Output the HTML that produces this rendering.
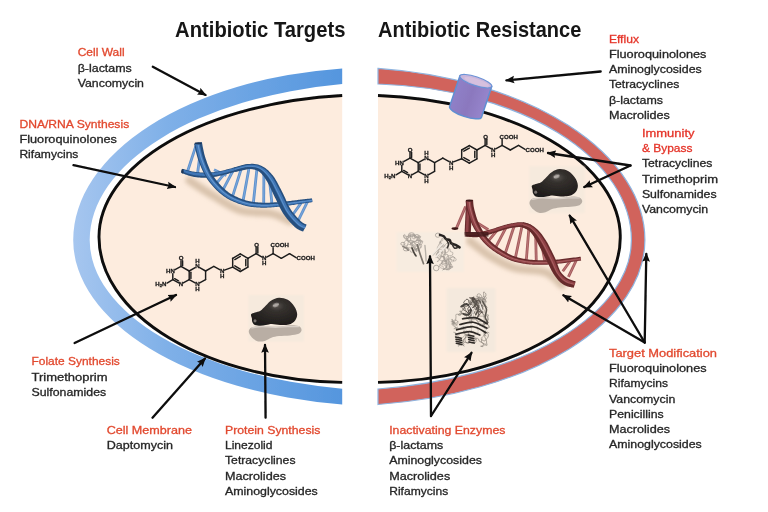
<!DOCTYPE html>
<html lang="en"><head><meta charset="utf-8"><title>Antibiotic Targets and Antibiotic Resistance</title>
<style>html,body{margin:0;padding:0;background:#fff}body{width:768px;height:512px;overflow:hidden}svg{display:block}</style>
</head><body>
<svg width="768" height="512" viewBox="0 0 768 512">
<defs>
<linearGradient id="gb" x1="73" y1="0" x2="342" y2="0" gradientUnits="userSpaceOnUse">
<stop offset="0" stop-color="#a6c6ef"/><stop offset="0.35" stop-color="#7fb0e8"/><stop offset="1" stop-color="#5596de"/>
</linearGradient>
<radialGradient id="gdark" cx="0.55" cy="0.3" r="0.7">
<stop offset="0" stop-color="#5a5550"/><stop offset="0.25" stop-color="#35312e"/><stop offset="1" stop-color="#1f1c1a"/>
</radialGradient>
<linearGradient id="gcyl" x1="0" y1="0" x2="1" y2="0">
<stop offset="0" stop-color="#8f80c8"/><stop offset="0.5" stop-color="#8b78be"/><stop offset="1" stop-color="#9685cc"/>
</linearGradient>
<filter id="bl2" x="-30%" y="-30%" width="160%" height="160%"><feGaussianBlur stdDeviation="2"/></filter>
<filter id="bl1" x="-20%" y="-20%" width="140%" height="140%"><feGaussianBlur stdDeviation="1"/></filter>
<filter id="bl05" x="-20%" y="-20%" width="140%" height="140%"><feGaussianBlur stdDeviation="0.5"/></filter>
<filter id="soft" x="-2%" y="-2%" width="104%" height="104%"><feGaussianBlur stdDeviation="0.5"/></filter>
<marker id="ah" viewBox="0 0 10 10" refX="8.6" refY="5" markerWidth="3.95" markerHeight="3.95" orient="auto" markerUnits="strokeWidth">
<path d="M0,0.8 L10,5 L0,9.2 L1.6,5 Z" fill="#0a0a0a"/></marker>

<g id="dnaB">
<path d="M189.33,180.47 C193.27,182.98 204.36,190.50 212.96,195.51 C221.55,200.52 231.21,207.57 240.88,210.54 C250.54,213.51 262.71,211.54 270.95,213.33 C279.18,215.12 287.05,219.96 290.27,221.28" fill="none" stroke="#c2a98c" stroke-opacity="0.6" stroke-width="8" stroke-linecap="round" filter="url(#bl2)"/>
<g stroke="var(--r)" stroke-width="2.8" stroke-linecap="butt"><line x1="195.8" y1="146.1" x2="187.6" y2="171.2"/><line x1="200.1" y1="153.6" x2="197.5" y2="174.0"/><line x1="307.5" y1="201.7" x2="297.1" y2="222.8"/><line x1="301.4" y1="202.6" x2="291.6" y2="216.3"/><line x1="214.0" y1="169.7" x2="226.3" y2="175.5"/><line x1="225.7" y1="172.1" x2="215.6" y2="184.4"/><line x1="233.4" y1="170.0" x2="222.3" y2="191.2"/><line x1="241.6" y1="167.7" x2="232.1" y2="197.8"/><line x1="249.3" y1="166.5" x2="242.8" y2="202.2"/><line x1="257.1" y1="167.3" x2="253.2" y2="204.5"/><line x1="263.9" y1="171.3" x2="263.7" y2="205.2"/><line x1="269.2" y1="177.4" x2="272.1" y2="204.9"/></g>
<g stroke="var(--l)" stroke-width="1.0" stroke-linecap="butt" stroke-opacity="0.7"><line x1="195.8" y1="146.1" x2="187.6" y2="171.2"/><line x1="200.1" y1="153.6" x2="197.5" y2="174.0"/><line x1="307.5" y1="201.7" x2="297.1" y2="222.8"/><line x1="301.4" y1="202.6" x2="291.6" y2="216.3"/><line x1="214.0" y1="169.7" x2="226.3" y2="175.5"/><line x1="225.7" y1="172.1" x2="215.6" y2="184.4"/><line x1="233.4" y1="170.0" x2="222.3" y2="191.2"/><line x1="241.6" y1="167.7" x2="232.1" y2="197.8"/><line x1="249.3" y1="166.5" x2="242.8" y2="202.2"/><line x1="257.1" y1="167.3" x2="253.2" y2="204.5"/><line x1="263.9" y1="171.3" x2="263.7" y2="205.2"/><line x1="269.2" y1="177.4" x2="272.1" y2="204.9"/></g>

<path d="M181.20,172.82 L181.65,172.99 L182.20,173.20 L182.85,173.46 L183.59,173.74 L184.40,174.05 L185.28,174.38 L186.20,174.71 L187.17,175.05 L188.16,175.39 L189.17,175.72 L190.18,176.03 L191.19,176.32 L192.20,176.58 L193.17,176.80 L194.11,176.96 L195.05,177.10 L196.00,177.22 L196.95,177.33 L197.91,177.43 L198.87,177.51 L199.84,177.58 L200.80,177.63 L201.77,177.67 L202.74,177.70 L203.70,177.72 L204.66,177.73 L205.62,177.72 L206.58,177.70 L207.53,177.65 L208.47,177.59 L209.40,177.51 L210.33,177.42 L211.26,177.32 L212.18,177.21 L213.11,177.08 L214.04,176.94 L214.98,176.79 L215.92,176.63 L216.88,176.45 L217.85,176.27 L218.83,176.07 L219.84,175.86 L220.88,175.64 L221.95,175.39 L223.04,175.13 L224.13,174.85 L225.23,174.56 L226.34,174.25 L227.44,173.94 L228.55,173.63 L229.65,173.32 L230.74,173.01 L231.82,172.71 L232.89,172.41 L233.93,172.13 L234.96,171.87 L236.02,171.64 L237.12,171.39 L238.26,171.15 L239.42,170.90 L240.59,170.65 L241.74,170.41 L242.87,170.17 L243.97,169.95 L245.01,169.73 L245.99,169.53 L246.88,169.35 L247.68,169.19 L248.38,169.06 L248.95,168.95 L247.84,164.08 L247.28,164.22 L246.60,164.40 L245.81,164.60 L244.92,164.82 L243.95,165.06 L242.92,165.32 L241.83,165.59 L240.70,165.87 L239.55,166.16 L238.39,166.45 L237.23,166.74 L236.09,167.03 L234.98,167.32 L233.91,167.60 L232.84,167.86 L231.76,168.13 L230.66,168.42 L229.56,168.71 L228.46,169.01 L227.35,169.31 L226.25,169.60 L225.16,169.90 L224.08,170.18 L223.01,170.45 L221.96,170.70 L220.93,170.94 L219.93,171.15 L218.96,171.34 L217.99,171.50 L217.04,171.65 L216.11,171.79 L215.20,171.91 L214.30,172.03 L213.41,172.13 L212.53,172.21 L211.66,172.29 L210.80,172.36 L209.93,172.41 L209.07,172.45 L208.20,172.48 L207.33,172.50 L206.45,172.50 L205.56,172.52 L204.66,172.53 L203.76,172.52 L202.86,172.51 L201.96,172.48 L201.06,172.44 L200.17,172.39 L199.28,172.32 L198.39,172.25 L197.51,172.16 L196.63,172.06 L195.77,171.95 L194.91,171.82 L194.08,171.68 L193.24,171.56 L192.36,171.40 L191.44,171.20 L190.49,170.98 L189.53,170.74 L188.57,170.49 L187.63,170.23 L186.71,169.97 L185.83,169.72 L185.00,169.49 L184.24,169.27 L183.55,169.08 L182.93,168.92 L182.43,168.80Z" fill="var(--d)"/>
<path d="M181.63,171.41 L182.10,171.56 L182.67,171.76 L183.33,171.99 L184.08,172.25 L184.90,172.54 L185.78,172.84 L186.70,173.14 L187.66,173.46 L188.64,173.76 L189.63,174.06 L190.62,174.34 L191.60,174.60 L192.56,174.82 L193.49,175.01 L194.39,175.16 L195.30,175.30 L196.22,175.42 L197.15,175.52 L198.08,175.61 L199.01,175.69 L199.95,175.76 L200.89,175.81 L201.84,175.86 L202.78,175.88 L203.72,175.90 L204.66,175.91 L205.60,175.90 L206.53,175.88 L207.46,175.85 L208.37,175.80 L209.28,175.74 L210.19,175.67 L211.10,175.58 L212.00,175.49 L212.91,175.38 L213.82,175.26 L214.74,175.12 L215.67,174.98 L216.61,174.82 L217.57,174.65 L218.54,174.47 L219.53,174.28 L220.55,174.07 L221.60,173.83 L222.66,173.58 L223.74,173.31 L224.83,173.02 L225.92,172.73 L227.03,172.42 L228.13,172.12 L229.23,171.81 L230.33,171.50 L231.42,171.21 L232.49,170.92 L233.55,170.64 L234.59,170.37 L235.65,170.12 L236.76,169.87 L237.90,169.60 L239.06,169.34 L240.23,169.08 L241.38,168.82 L242.51,168.57 L243.60,168.33 L244.64,168.10 L245.61,167.89 L246.51,167.69 L247.30,167.52 L247.99,167.37 L248.56,167.24 L248.00,164.81 L247.44,164.95 L246.76,165.12 L245.97,165.31 L245.08,165.53 L244.11,165.76 L243.08,166.01 L241.99,166.28 L240.86,166.55 L239.71,166.83 L238.55,167.11 L237.39,167.40 L236.24,167.68 L235.13,167.96 L234.06,168.24 L233.00,168.50 L231.93,168.77 L230.84,169.06 L229.74,169.36 L228.64,169.66 L227.53,169.96 L226.43,170.26 L225.34,170.55 L224.25,170.83 L223.18,171.11 L222.12,171.37 L221.09,171.61 L220.08,171.82 L219.09,172.02 L218.12,172.19 L217.16,172.34 L216.23,172.49 L215.31,172.62 L214.40,172.74 L213.50,172.85 L212.62,172.94 L211.74,173.03 L210.86,173.10 L209.99,173.16 L209.12,173.21 L208.24,173.25 L207.36,173.27 L206.47,173.28 L205.57,173.30 L204.66,173.31 L203.75,173.30 L202.84,173.29 L201.93,173.26 L201.02,173.22 L200.12,173.17 L199.21,173.10 L198.32,173.03 L197.42,172.94 L196.54,172.83 L195.66,172.72 L194.79,172.59 L193.95,172.45 L193.09,172.31 L192.19,172.14 L191.25,171.93 L190.29,171.69 L189.32,171.44 L188.36,171.18 L187.41,170.90 L186.49,170.63 L185.62,170.37 L184.79,170.12 L184.03,169.90 L183.34,169.70 L182.74,169.53 L182.24,169.40Z" fill="var(--m)"/>
<path d="M194.03,143.81 L194.21,144.46 L194.40,145.26 L194.63,146.22 L194.88,147.32 L195.15,148.52 L195.45,149.81 L195.78,151.18 L196.12,152.60 L196.49,154.06 L196.89,155.54 L197.31,157.02 L197.76,158.49 L198.23,159.93 L198.73,161.31 L199.23,162.61 L199.74,163.92 L200.26,165.25 L200.81,166.61 L201.38,167.97 L201.97,169.35 L202.60,170.73 L203.25,172.12 L203.95,173.51 L204.67,174.89 L205.44,176.26 L206.25,177.62 L207.11,178.95 L208.01,180.26 L208.95,181.53 L209.93,182.79 L210.96,184.05 L212.02,185.31 L213.11,186.55 L214.24,187.77 L215.40,188.97 L216.59,190.15 L217.79,191.30 L219.02,192.41 L220.26,193.49 L221.52,194.52 L222.79,195.50 L224.08,196.43 L225.38,197.32 L226.70,198.16 L228.05,198.95 L229.42,199.70 L230.80,200.41 L232.19,201.08 L233.59,201.71 L234.99,202.31 L236.40,202.86 L237.80,203.39 L239.19,203.88 L240.58,204.34 L241.95,204.77 L243.32,205.18 L244.69,205.56 L246.06,205.90 L247.42,206.21 L248.78,206.47 L250.14,206.70 L251.49,206.90 L252.83,207.07 L254.18,207.21 L255.52,207.33 L256.86,207.43 L258.21,207.51 L259.55,207.57 L260.90,207.63 L262.27,207.67 L263.66,207.70 L265.08,207.69 L266.51,207.66 L267.95,207.60 L269.39,207.53 L270.82,207.43 L272.25,207.32 L273.68,207.20 L275.09,207.07 L276.49,206.94 L277.88,206.80 L279.24,206.66 L280.58,206.52 L281.89,206.39 L283.21,206.25 L284.53,206.10 L285.83,205.94 L287.13,205.78 L288.42,205.60 L289.69,205.43 L290.94,205.24 L292.18,205.06 L293.40,204.88 L294.60,204.70 L295.77,204.52 L296.92,204.35 L298.04,204.19 L299.13,204.03 L300.23,203.88 L301.35,203.72 L302.48,203.56 L303.60,203.40 L304.71,203.25 L305.80,203.09 L306.86,202.94 L307.87,202.79 L308.82,202.66 L309.71,202.53 L310.53,202.41 L311.26,202.30 L311.90,202.20 L312.43,202.12 L311.94,198.35 L311.40,198.40 L310.76,198.47 L310.03,198.55 L309.21,198.64 L308.31,198.75 L307.35,198.86 L306.34,198.97 L305.28,199.10 L304.19,199.22 L303.08,199.35 L301.95,199.48 L300.82,199.61 L299.70,199.74 L298.60,199.87 L297.49,200.00 L296.35,200.13 L295.19,200.28 L294.01,200.43 L292.81,200.58 L291.59,200.73 L290.36,200.88 L289.11,201.03 L287.86,201.18 L286.59,201.32 L285.32,201.46 L284.04,201.59 L282.76,201.70 L281.47,201.81 L280.16,201.91 L278.81,202.02 L277.45,202.13 L276.08,202.24 L274.70,202.35 L273.31,202.45 L271.92,202.54 L270.53,202.61 L269.15,202.68 L267.77,202.72 L266.41,202.75 L265.07,202.75 L263.75,202.72 L262.44,202.67 L261.13,202.60 L259.83,202.52 L258.54,202.43 L257.26,202.33 L255.99,202.21 L254.73,202.07 L253.48,201.91 L252.24,201.72 L251.01,201.52 L249.78,201.28 L248.56,201.01 L247.34,200.72 L246.11,200.38 L244.88,200.01 L243.62,199.59 L242.34,199.15 L241.06,198.68 L239.78,198.18 L238.49,197.66 L237.22,197.10 L235.95,196.52 L234.69,195.91 L233.45,195.27 L232.23,194.60 L231.03,193.89 L229.86,193.15 L228.72,192.38 L227.61,191.58 L226.51,190.72 L225.41,189.80 L224.32,188.83 L223.23,187.82 L222.15,186.77 L221.08,185.68 L220.04,184.56 L219.02,183.42 L218.02,182.26 L217.06,181.09 L216.13,179.91 L215.24,178.73 L214.40,177.55 L213.60,176.39 L212.86,175.24 L212.16,174.07 L211.48,172.87 L210.84,171.64 L210.23,170.39 L209.64,169.13 L209.08,167.85 L208.55,166.56 L208.03,165.26 L207.53,163.96 L207.05,162.66 L206.59,161.36 L206.14,160.08 L205.70,158.83 L205.30,157.60 L204.92,156.33 L204.56,154.99 L204.21,153.63 L203.89,152.24 L203.58,150.86 L203.29,149.49 L203.02,148.17 L202.77,146.90 L202.54,145.71 L202.33,144.60 L202.14,143.60 L201.97,142.70 L201.81,141.97Z" fill="var(--d)"/>
<path d="M195.14,143.54 L195.31,144.21 L195.51,145.03 L195.73,145.99 L195.97,147.09 L196.24,148.29 L196.53,149.58 L196.85,150.94 L197.18,152.35 L197.55,153.80 L197.93,155.26 L198.34,156.73 L198.78,158.18 L199.24,159.60 L199.72,160.95 L200.21,162.25 L200.71,163.56 L201.23,164.88 L201.77,166.23 L202.32,167.59 L202.91,168.95 L203.52,170.32 L204.16,171.70 L204.84,173.06 L205.55,174.43 L206.30,175.78 L207.09,177.11 L207.93,178.42 L208.81,179.71 L209.73,180.96 L210.69,182.21 L211.69,183.46 L212.74,184.71 L213.81,185.94 L214.92,187.15 L216.06,188.34 L217.23,189.51 L218.41,190.65 L219.62,191.76 L220.84,192.82 L222.08,193.84 L223.32,194.82 L224.58,195.74 L225.85,196.61 L227.15,197.44 L228.48,198.23 L229.82,198.98 L231.18,199.68 L232.55,200.35 L233.93,200.97 L235.31,201.57 L236.70,202.12 L238.08,202.65 L239.46,203.14 L240.83,203.60 L242.19,204.03 L243.54,204.44 L244.89,204.82 L246.24,205.16 L247.58,205.47 L248.92,205.73 L250.26,205.96 L251.59,206.16 L252.93,206.33 L254.26,206.48 L255.59,206.60 L256.92,206.70 L258.25,206.78 L259.59,206.85 L260.93,206.91 L262.29,206.96 L263.68,206.99 L265.08,206.99 L266.50,206.96 L267.92,206.91 L269.35,206.84 L270.78,206.75 L272.21,206.64 L273.63,206.53 L275.04,206.40 L276.44,206.27 L277.82,206.13 L279.18,206.00 L280.52,205.86 L281.83,205.74 L283.15,205.60 L284.46,205.46 L285.76,205.30 L287.05,205.14 L288.34,204.97 L289.61,204.80 L290.86,204.62 L292.10,204.45 L293.31,204.27 L294.51,204.09 L295.69,203.92 L296.84,203.75 L297.96,203.59 L299.06,203.44 L300.16,203.29 L301.28,203.14 L302.40,202.98 L303.53,202.83 L304.64,202.67 L305.73,202.52 L306.78,202.37 L307.79,202.23 L308.75,202.10 L309.64,201.97 L310.46,201.86 L311.19,201.75 L311.83,201.66 L312.36,201.58 L312.09,199.51 L311.56,199.57 L310.92,199.65 L310.18,199.74 L309.36,199.84 L308.47,199.95 L307.51,200.07 L306.50,200.19 L305.44,200.32 L304.35,200.46 L303.24,200.60 L302.11,200.74 L300.99,200.88 L299.87,201.01 L298.76,201.15 L297.66,201.29 L296.52,201.43 L295.37,201.58 L294.19,201.74 L292.99,201.90 L291.77,202.06 L290.54,202.22 L289.29,202.38 L288.03,202.54 L286.76,202.69 L285.48,202.84 L284.19,202.97 L282.90,203.10 L281.60,203.22 L280.29,203.33 L278.94,203.45 L277.58,203.57 L276.21,203.69 L274.82,203.80 L273.42,203.91 L272.02,204.01 L270.62,204.10 L269.22,204.17 L267.83,204.22 L266.44,204.26 L265.08,204.27 L263.72,204.25 L262.39,204.21 L261.06,204.15 L259.74,204.08 L258.43,203.99 L257.14,203.90 L255.84,203.78 L254.56,203.65 L253.28,203.49 L252.01,203.32 L250.74,203.11 L249.48,202.88 L248.21,202.61 L246.94,202.31 L245.67,201.98 L244.40,201.60 L243.11,201.19 L241.80,200.74 L240.49,200.28 L239.17,199.78 L237.85,199.26 L236.53,198.70 L235.22,198.12 L233.92,197.50 L232.63,196.85 L231.36,196.17 L230.11,195.45 L228.89,194.69 L227.69,193.90 L226.52,193.07 L225.37,192.19 L224.22,191.25 L223.07,190.26 L221.93,189.23 L220.81,188.16 L219.70,187.05 L218.61,185.92 L217.55,184.76 L216.51,183.58 L215.51,182.39 L214.54,181.19 L213.61,179.98 L212.72,178.77 L211.88,177.58 L211.09,176.38 L210.34,175.16 L209.63,173.91 L208.95,172.64 L208.30,171.35 L207.68,170.05 L207.09,168.73 L206.53,167.41 L205.98,166.09 L205.46,164.77 L204.96,163.46 L204.48,162.15 L204.01,160.86 L203.56,159.59 L203.13,158.32 L202.72,156.99 L202.33,155.62 L201.96,154.21 L201.61,152.80 L201.28,151.39 L200.98,150.01 L200.69,148.68 L200.43,147.40 L200.18,146.20 L199.96,145.10 L199.76,144.11 L199.58,143.24 L199.42,142.53Z" fill="var(--m)"/>
<path d="M197.10,143.08 L197.27,143.77 L197.46,144.61 L197.67,145.58 L197.91,146.68 L198.16,147.88 L198.44,149.16 L198.74,150.51 L199.07,151.91 L199.41,153.34 L199.78,154.78 L200.17,156.22 L200.59,157.63 L201.02,159.01 L201.48,160.33 L201.96,161.61 L202.44,162.91 L202.94,164.23 L203.46,165.56 L204.00,166.90 L204.57,168.25 L205.16,169.59 L205.78,170.94 L206.43,172.28 L207.11,173.61 L207.83,174.92 L208.58,176.21 L209.38,177.49 L210.22,178.73 L211.10,179.96 L212.03,181.19 L213.00,182.42 L214.01,183.64 L215.05,184.85 L216.13,186.05 L217.23,187.23 L218.36,188.38 L219.51,189.51 L220.68,190.60 L221.87,191.65 L223.06,192.65 L224.26,193.61 L225.47,194.51 L226.70,195.37 L227.95,196.18 L229.23,196.95 L230.53,197.69 L231.85,198.38 L233.18,199.04 L234.52,199.66 L235.87,200.25 L237.23,200.81 L238.58,201.33 L239.93,201.83 L241.28,202.29 L242.61,202.73 L243.93,203.14 L245.25,203.52 L246.56,203.85 L247.87,204.16 L249.18,204.42 L250.48,204.65 L251.79,204.85 L253.09,205.03 L254.40,205.18 L255.71,205.31 L257.02,205.41 L258.34,205.50 L259.66,205.58 L260.99,205.64 L262.34,205.70 L263.70,205.73 L265.08,205.74 L266.47,205.72 L267.88,205.68 L269.29,205.61 L270.71,205.53 L272.12,205.43 L273.53,205.32 L274.94,205.21 L276.33,205.08 L277.71,204.95 L279.07,204.83 L280.41,204.70 L281.73,204.58 L283.03,204.45 L284.34,204.32 L285.63,204.17 L286.92,204.02 L288.20,203.86 L289.46,203.69 L290.71,203.52 L291.95,203.35 L293.17,203.18 L294.36,203.01 L295.54,202.85 L296.69,202.69 L297.82,202.53 L298.92,202.39 L300.02,202.24 L301.14,202.10 L302.27,201.95 L303.40,201.80 L304.51,201.66 L305.60,201.51 L306.65,201.37 L307.66,201.24 L308.62,201.11 L309.51,200.99 L310.33,200.88 L311.06,200.79 L311.70,200.70 L312.23,200.63 L312.16,200.06 L311.63,200.13 L310.99,200.21 L310.26,200.31 L309.44,200.41 L308.54,200.53 L307.59,200.65 L306.57,200.78 L305.52,200.91 L304.43,201.05 L303.32,201.20 L302.19,201.34 L301.06,201.48 L299.94,201.62 L298.84,201.76 L297.74,201.90 L296.61,202.05 L295.45,202.21 L294.27,202.37 L293.08,202.54 L291.86,202.70 L290.62,202.87 L289.37,203.03 L288.11,203.19 L286.84,203.35 L285.55,203.50 L284.26,203.64 L282.97,203.77 L281.66,203.89 L280.35,204.01 L279.01,204.13 L277.65,204.25 L276.27,204.38 L274.88,204.50 L273.48,204.61 L272.07,204.71 L270.66,204.81 L269.26,204.88 L267.85,204.94 L266.46,204.98 L265.08,205.00 L263.71,204.99 L262.36,204.95 L261.03,204.89 L259.70,204.82 L258.39,204.74 L257.08,204.65 L255.78,204.54 L254.48,204.41 L253.19,204.26 L251.90,204.08 L250.61,203.88 L249.33,203.64 L248.04,203.38 L246.75,203.08 L245.46,202.74 L244.17,202.36 L242.86,201.95 L241.54,201.51 L240.21,201.05 L238.88,200.55 L237.54,200.03 L236.20,199.47 L234.87,198.88 L233.55,198.26 L232.24,197.61 L230.95,196.92 L229.67,196.19 L228.42,195.43 L227.20,194.63 L226.00,193.79 L224.82,192.89 L223.64,191.95 L222.47,190.95 L221.31,189.91 L220.17,188.83 L219.04,187.71 L217.93,186.57 L216.85,185.40 L215.79,184.21 L214.77,183.01 L213.78,181.80 L212.83,180.58 L211.92,179.36 L211.06,178.15 L210.24,176.93 L209.47,175.68 L208.73,174.41 L208.04,173.12 L207.37,171.81 L206.74,170.49 L206.13,169.16 L205.56,167.83 L205.00,166.49 L204.47,165.16 L203.96,163.84 L203.47,162.53 L202.99,161.23 L202.53,159.96 L202.09,158.66 L201.66,157.31 L201.26,155.91 L200.88,154.49 L200.52,153.07 L200.19,151.65 L199.87,150.26 L199.58,148.92 L199.30,147.64 L199.05,146.44 L198.83,145.34 L198.62,144.36 L198.43,143.50 L198.27,142.80Z" fill="var(--l)" fill-opacity="0.6"/>
<path d="M234.97,171.87 L235.57,171.74 L236.32,171.56 L237.17,171.34 L238.10,171.09 L239.11,170.82 L240.18,170.54 L241.28,170.26 L242.41,169.98 L243.55,169.73 L244.66,169.50 L245.74,169.30 L246.75,169.15 L247.68,169.05 L248.53,169.01 L249.37,169.02 L250.21,169.06 L251.04,169.11 L251.85,169.18 L252.63,169.28 L253.39,169.40 L254.13,169.55 L254.84,169.72 L255.54,169.92 L256.21,170.15 L256.86,170.40 L257.49,170.69 L258.11,171.02 L258.71,171.38 L259.30,171.80 L259.87,172.26 L260.44,172.76 L261.00,173.30 L261.56,173.87 L262.11,174.48 L262.66,175.13 L263.21,175.82 L263.76,176.54 L264.31,177.30 L264.86,178.10 L265.41,178.93 L265.97,179.80 L266.51,180.68 L267.07,181.54 L267.61,182.46 L268.16,183.44 L268.72,184.47 L269.28,185.56 L269.83,186.68 L270.39,187.85 L270.96,189.04 L271.53,190.26 L272.10,191.49 L272.68,192.74 L273.26,193.99 L273.86,195.25 L274.45,196.47 L275.05,197.63 L275.64,198.80 L276.23,200.02 L276.82,201.26 L277.42,202.53 L278.02,203.81 L278.63,205.11 L279.26,206.41 L279.90,207.71 L280.56,209.00 L281.24,210.27 L281.95,211.53 L282.68,212.76 L283.45,213.96 L284.23,215.11 L285.04,216.24 L285.88,217.35 L286.73,218.43 L287.60,219.48 L288.47,220.50 L289.34,221.48 L290.20,222.43 L291.05,223.34 L291.89,224.20 L292.70,225.02 L293.48,225.78 L294.23,226.50 L294.96,227.18 L295.75,227.83 L296.57,228.44 L297.37,228.98 L298.15,229.45 L298.90,229.85 L299.62,230.21 L300.30,230.51 L300.92,230.76 L301.49,230.97 L301.99,231.15 L302.41,231.29 L302.73,231.39 L302.93,231.45 L303.12,231.52 L306.64,224.79 L306.27,224.56 L305.81,224.32 L305.38,224.11 L304.97,223.91 L304.55,223.71 L304.14,223.50 L303.72,223.28 L303.29,223.04 L302.87,222.78 L302.43,222.49 L301.99,222.17 L301.55,221.82 L301.10,221.43 L300.62,220.97 L300.04,220.41 L299.38,219.76 L298.69,219.07 L297.97,218.32 L297.22,217.53 L296.46,216.70 L295.70,215.84 L294.93,214.95 L294.16,214.03 L293.41,213.10 L292.68,212.15 L291.97,211.19 L291.29,210.23 L290.66,209.27 L290.07,208.30 L289.48,207.27 L288.90,206.18 L288.33,205.04 L287.75,203.86 L287.18,202.64 L286.61,201.40 L286.04,200.13 L285.47,198.84 L284.89,197.54 L284.30,196.24 L283.70,194.94 L283.09,193.65 L282.48,192.40 L281.84,191.22 L281.22,190.04 L280.60,188.85 L279.98,187.64 L279.35,186.42 L278.71,185.19 L278.07,183.97 L277.42,182.76 L276.76,181.56 L276.09,180.38 L275.40,179.23 L274.70,178.10 L273.97,177.01 L273.23,175.97 L272.47,175.04 L271.72,174.15 L270.96,173.28 L270.19,172.45 L269.41,171.64 L268.62,170.86 L267.82,170.11 L267.00,169.39 L266.17,168.72 L265.31,168.08 L264.44,167.48 L263.55,166.92 L262.63,166.41 L261.70,165.94 L260.76,165.51 L259.81,165.13 L258.85,164.81 L257.89,164.54 L256.93,164.32 L255.97,164.15 L255.01,164.02 L254.05,163.92 L253.09,163.87 L252.13,163.85 L251.17,163.85 L250.21,163.89 L249.25,163.94 L248.26,164.02 L247.18,164.12 L246.02,164.29 L244.85,164.51 L243.65,164.77 L242.44,165.07 L241.24,165.39 L240.07,165.72 L238.93,166.05 L237.84,166.38 L236.83,166.70 L235.91,166.98 L235.11,167.24 L234.44,167.44 L233.90,167.60Z" fill="var(--d)"/>
<path d="M234.53,170.11 L235.11,169.97 L235.82,169.78 L236.65,169.54 L237.58,169.28 L238.59,168.99 L239.66,168.69 L240.78,168.39 L241.93,168.09 L243.09,167.81 L244.24,167.55 L245.37,167.33 L246.45,167.15 L247.47,167.02 L248.42,166.95 L249.32,166.93 L250.21,166.93 L251.09,166.94 L251.96,166.98 L252.82,167.05 L253.66,167.14 L254.49,167.27 L255.31,167.42 L256.11,167.61 L256.90,167.84 L257.68,168.10 L258.45,168.40 L259.20,168.75 L259.94,169.14 L260.67,169.58 L261.39,170.06 L262.09,170.58 L262.78,171.14 L263.45,171.75 L264.12,172.39 L264.79,173.06 L265.44,173.77 L266.09,174.52 L266.73,175.30 L267.37,176.12 L268.01,176.96 L268.65,177.84 L269.28,178.74 L269.91,179.67 L270.53,180.66 L271.15,181.70 L271.76,182.79 L272.36,183.91 L272.96,185.07 L273.56,186.25 L274.15,187.45 L274.75,188.67 L275.35,189.90 L275.94,191.14 L276.54,192.37 L277.15,193.59 L277.76,194.79 L278.36,195.99 L278.96,197.21 L279.55,198.46 L280.14,199.73 L280.73,201.01 L281.33,202.29 L281.92,203.58 L282.52,204.86 L283.14,206.12 L283.76,207.37 L284.40,208.59 L285.05,209.77 L285.72,210.92 L286.42,212.03 L287.14,213.10 L287.90,214.16 L288.68,215.21 L289.48,216.23 L290.30,217.24 L291.13,218.21 L291.96,219.16 L292.78,220.07 L293.60,220.95 L294.39,221.78 L295.17,222.57 L295.91,223.30 L296.62,223.99 L297.29,224.62 L297.96,225.19 L298.62,225.71 L299.27,226.17 L299.91,226.58 L300.53,226.94 L301.13,227.25 L301.71,227.53 L302.25,227.77 L302.75,227.98 L303.22,228.17 L303.63,228.33 L304.00,228.48 L304.31,228.61 L304.57,228.75 L305.98,226.05 L305.64,225.86 L305.23,225.65 L304.82,225.46 L304.41,225.27 L303.98,225.07 L303.53,224.86 L303.08,224.64 L302.60,224.38 L302.12,224.11 L301.63,223.80 L301.12,223.45 L300.61,223.07 L300.10,222.63 L299.56,222.13 L298.94,221.55 L298.27,220.89 L297.56,220.18 L296.82,219.43 L296.06,218.62 L295.29,217.78 L294.50,216.90 L293.71,215.99 L292.93,215.06 L292.16,214.10 L291.40,213.13 L290.67,212.14 L289.97,211.15 L289.30,210.15 L288.68,209.14 L288.06,208.07 L287.46,206.95 L286.87,205.79 L286.28,204.58 L285.69,203.35 L285.11,202.09 L284.53,200.82 L283.95,199.53 L283.37,198.24 L282.78,196.95 L282.19,195.67 L281.58,194.40 L280.97,193.16 L280.34,191.98 L279.73,190.79 L279.11,189.58 L278.50,188.36 L277.88,187.14 L277.26,185.92 L276.63,184.70 L276.00,183.50 L275.35,182.31 L274.70,181.15 L274.04,180.02 L273.36,178.92 L272.67,177.86 L271.97,176.86 L271.25,175.93 L270.53,175.05 L269.81,174.19 L269.09,173.36 L268.35,172.56 L267.61,171.79 L266.85,171.05 L266.08,170.35 L265.30,169.69 L264.50,169.06 L263.69,168.47 L262.86,167.92 L262.01,167.42 L261.14,166.96 L260.26,166.54 L259.37,166.17 L258.48,165.86 L257.58,165.59 L256.67,165.37 L255.76,165.19 L254.84,165.06 L253.92,164.95 L253.00,164.89 L252.08,164.85 L251.15,164.84 L250.21,164.86 L249.27,164.90 L248.31,164.95 L247.27,165.05 L246.16,165.20 L245.01,165.41 L243.84,165.66 L242.65,165.95 L241.46,166.25 L240.30,166.57 L239.16,166.90 L238.08,167.22 L237.07,167.52 L236.15,167.80 L235.34,168.05 L234.65,168.25 L234.10,168.40Z" fill="var(--m)"/>
<path d="M234.45,169.78 L235.02,169.64 L235.73,169.45 L236.55,169.21 L237.48,168.94 L238.49,168.65 L239.57,168.35 L240.69,168.04 L241.84,167.74 L243.01,167.45 L244.17,167.19 L245.30,166.96 L246.40,166.78 L247.44,166.64 L248.40,166.57 L249.31,166.54 L250.21,166.53 L251.10,166.54 L251.98,166.58 L252.85,166.64 L253.71,166.73 L254.56,166.85 L255.39,167.00 L256.22,167.19 L257.03,167.41 L257.83,167.67 L258.62,167.98 L259.40,168.33 L260.17,168.73 L260.93,169.17 L261.66,169.65 L262.39,170.18 L263.10,170.75 L263.81,171.35 L264.50,172.00 L265.18,172.68 L265.85,173.40 L266.52,174.15 L267.18,174.93 L267.84,175.75 L268.49,176.60 L269.14,177.48 L269.79,178.38 L270.44,179.33 L271.07,180.33 L271.70,181.38 L272.32,182.48 L272.93,183.61 L273.54,184.77 L274.14,185.96 L274.74,187.16 L275.34,188.38 L275.94,189.61 L276.55,190.84 L277.15,192.07 L277.76,193.28 L278.37,194.48 L278.97,195.69 L279.57,196.92 L280.17,198.17 L280.76,199.45 L281.35,200.73 L281.94,202.01 L282.53,203.30 L283.13,204.57 L283.73,205.83 L284.35,207.07 L284.98,208.28 L285.62,209.45 L286.28,210.58 L286.97,211.67 L287.68,212.73 L288.42,213.78 L289.20,214.81 L289.99,215.83 L290.80,216.82 L291.62,217.79 L292.44,218.73 L293.26,219.64 L294.06,220.50 L294.85,221.33 L295.62,222.11 L296.36,222.85 L297.06,223.52 L297.72,224.15 L298.36,224.71 L299.00,225.21 L299.62,225.66 L300.24,226.05 L300.84,226.40 L301.41,226.71 L301.97,226.98 L302.49,227.22 L302.98,227.43 L303.44,227.62 L303.86,227.79 L304.23,227.94 L304.56,228.09 L304.84,228.23 L305.19,227.56 L304.89,227.40 L304.54,227.24 L304.16,227.07 L303.74,226.89 L303.29,226.70 L302.81,226.49 L302.31,226.25 L301.78,225.99 L301.23,225.69 L300.67,225.36 L300.09,224.98 L299.50,224.55 L298.90,224.07 L298.29,223.53 L297.64,222.92 L296.95,222.24 L296.22,221.52 L295.46,220.74 L294.68,219.92 L293.88,219.06 L293.08,218.17 L292.27,217.24 L291.46,216.28 L290.66,215.29 L289.88,214.29 L289.12,213.27 L288.38,212.24 L287.69,211.20 L287.02,210.14 L286.38,209.02 L285.74,207.87 L285.13,206.67 L284.52,205.44 L283.92,204.19 L283.33,202.93 L282.74,201.64 L282.15,200.36 L281.56,199.07 L280.97,197.80 L280.38,196.53 L279.78,195.29 L279.17,194.07 L278.55,192.88 L277.94,191.67 L277.34,190.45 L276.73,189.23 L276.13,188.00 L275.52,186.78 L274.91,185.57 L274.30,184.38 L273.68,183.21 L273.05,182.07 L272.42,180.96 L271.78,179.90 L271.13,178.88 L270.46,177.91 L269.79,177.00 L269.12,176.12 L268.45,175.27 L267.77,174.45 L267.08,173.66 L266.39,172.90 L265.69,172.18 L264.99,171.49 L264.27,170.84 L263.54,170.23 L262.79,169.65 L262.03,169.12 L261.26,168.63 L260.47,168.18 L259.67,167.78 L258.85,167.42 L258.03,167.11 L257.20,166.85 L256.36,166.63 L255.51,166.44 L254.65,166.29 L253.78,166.18 L252.90,166.10 L252.01,166.05 L251.12,166.02 L250.21,166.02 L249.30,166.03 L248.37,166.07 L247.38,166.15 L246.33,166.29 L245.21,166.48 L244.07,166.72 L242.90,166.99 L241.73,167.28 L240.57,167.59 L239.44,167.90 L238.37,168.21 L237.36,168.50 L236.43,168.78 L235.61,169.02 L234.91,169.21 L234.34,169.36Z" fill="var(--l)" fill-opacity="0.5"/>
<ellipse cx="198.14" cy="143.32" rx="3.5" ry="1.1" fill="var(--k)"/><ellipse cx="182.46" cy="171.24" rx="1.2" ry="2.2" fill="var(--k)"/>
</g>
<g id="dnaR">
<path d="M470.00,241.00 C473.33,243.50 482.50,251.50 490.00,256.00 C497.50,260.50 505.83,265.33 515.00,268.00 C524.17,270.67 537.17,269.17 545.00,272.00 C552.83,274.83 559.17,282.83 562.00,285.00" fill="none" stroke="#c2a98c" stroke-opacity="0.6" stroke-width="8" stroke-linecap="round" filter="url(#bl2)"/>
<g stroke="var(--r)" stroke-width="2.8" stroke-linecap="butt"><line x1="465.6" y1="206.5" x2="456.3" y2="228.6"/><line x1="476.6" y1="222.4" x2="488.3" y2="229.8"/><line x1="497.9" y1="229.4" x2="487.4" y2="242.1"/><line x1="506.4" y1="226.8" x2="495.0" y2="248.6"/><line x1="514.4" y1="225.2" x2="504.8" y2="254.8"/><line x1="522.3" y1="224.7" x2="515.1" y2="259.2"/><line x1="529.0" y1="226.9" x2="526.2" y2="261.6"/><line x1="535.6" y1="232.7" x2="536.3" y2="262.4"/><line x1="541.0" y1="240.5" x2="545.1" y2="262.5"/><line x1="576.2" y1="260.5" x2="568.4" y2="276.9"/><line x1="570.0" y1="261.3" x2="562.8" y2="271.2"/></g>
<g stroke="var(--l)" stroke-width="1.0" stroke-linecap="butt" stroke-opacity="0.7"><line x1="465.6" y1="206.5" x2="456.3" y2="228.6"/><line x1="476.6" y1="222.4" x2="488.3" y2="229.8"/><line x1="497.9" y1="229.4" x2="487.4" y2="242.1"/><line x1="506.4" y1="226.8" x2="495.0" y2="248.6"/><line x1="514.4" y1="225.2" x2="504.8" y2="254.8"/><line x1="522.3" y1="224.7" x2="515.1" y2="259.2"/><line x1="529.0" y1="226.9" x2="526.2" y2="261.6"/><line x1="535.6" y1="232.7" x2="536.3" y2="262.4"/><line x1="541.0" y1="240.5" x2="545.1" y2="262.5"/><line x1="576.2" y1="260.5" x2="568.4" y2="276.9"/><line x1="570.0" y1="261.3" x2="562.8" y2="271.2"/></g>
<path d="M469.2,200.4 L467.6,235" stroke="var(--d)" stroke-width="6.2" fill="none"/><path d="M468.4,201 L466.9,235" stroke="var(--m)" stroke-width="2.6" fill="none"/>
<path d="M465.39,236.50 L465.87,236.53 L466.44,236.59 L467.14,236.66 L467.93,236.74 L468.80,236.82 L469.74,236.91 L470.73,237.00 L471.77,237.07 L472.84,237.13 L473.92,237.18 L475.02,237.20 L476.11,237.20 L477.20,237.16 L478.26,237.09 L479.29,236.95 L480.32,236.78 L481.36,236.58 L482.40,236.36 L483.45,236.12 L484.49,235.86 L485.53,235.59 L486.57,235.31 L487.59,235.02 L488.60,234.74 L489.59,234.45 L490.55,234.16 L491.50,233.89 L492.42,233.61 L493.35,233.34 L494.27,233.06 L495.18,232.77 L496.07,232.47 L496.95,232.17 L497.81,231.86 L498.66,231.56 L499.49,231.27 L500.30,230.98 L501.09,230.70 L501.87,230.43 L502.63,230.17 L503.37,229.94 L504.11,229.71 L504.84,229.52 L505.56,229.32 L506.26,229.14 L506.94,228.97 L507.61,228.80 L508.27,228.64 L508.92,228.50 L509.56,228.36 L510.19,228.22 L510.82,228.10 L511.45,227.98 L512.08,227.87 L512.71,227.77 L513.36,227.67 L514.03,227.58 L514.71,227.49 L515.38,227.40 L516.05,227.32 L516.71,227.24 L517.36,227.18 L518.00,227.12 L518.63,227.08 L519.24,227.05 L519.84,227.04 L520.41,227.04 L520.96,227.07 L521.48,227.11 L521.96,227.18 L522.42,227.29 L522.90,227.44 L523.42,227.63 L523.96,227.84 L524.52,228.09 L525.08,228.35 L525.63,228.63 L526.17,228.91 L526.69,229.19 L527.19,229.46 L527.66,229.72 L528.10,229.97 L528.52,230.20 L528.86,230.38 L531.14,224.82 L530.86,224.75 L530.54,224.64 L530.12,224.49 L529.63,224.29 L529.08,224.07 L528.48,223.84 L527.83,223.59 L527.16,223.34 L526.45,223.09 L525.72,222.86 L524.97,222.65 L524.20,222.46 L523.42,222.32 L522.64,222.22 L521.89,222.16 L521.16,222.13 L520.42,222.13 L519.69,222.15 L518.97,222.20 L518.24,222.26 L517.52,222.34 L516.80,222.44 L516.09,222.54 L515.39,222.65 L514.69,222.77 L514.00,222.89 L513.32,223.01 L512.64,223.13 L511.96,223.25 L511.27,223.37 L510.59,223.51 L509.91,223.65 L509.24,223.80 L508.56,223.95 L507.88,224.12 L507.20,224.29 L506.51,224.47 L505.82,224.66 L505.11,224.85 L504.39,225.05 L503.65,225.26 L502.89,225.49 L502.10,225.71 L501.29,225.95 L500.48,226.21 L499.66,226.48 L498.84,226.75 L498.01,227.03 L497.18,227.31 L496.34,227.60 L495.50,227.88 L494.65,228.15 L493.79,228.43 L492.93,228.69 L492.06,228.94 L491.18,229.19 L490.26,229.43 L489.30,229.68 L488.33,229.93 L487.35,230.19 L486.36,230.44 L485.36,230.69 L484.37,230.93 L483.37,231.16 L482.39,231.38 L481.41,231.57 L480.46,231.75 L479.52,231.90 L478.61,232.02 L477.74,232.11 L476.88,232.20 L475.96,232.26 L475.00,232.29 L474.01,232.29 L473.02,232.28 L472.02,232.25 L471.04,232.20 L470.09,232.15 L469.18,232.10 L468.32,232.04 L467.52,231.99 L466.79,231.95 L466.14,231.91 L465.61,231.90Z" fill="var(--d)"/>
<path d="M465.47,234.89 L465.96,234.92 L466.57,234.96 L467.27,235.02 L468.06,235.09 L468.93,235.17 L469.86,235.25 L470.84,235.32 L471.86,235.38 L472.90,235.43 L473.96,235.47 L475.01,235.48 L476.06,235.47 L477.09,235.43 L478.08,235.35 L479.05,235.22 L480.04,235.07 L481.04,234.89 L482.06,234.68 L483.08,234.46 L484.10,234.22 L485.13,233.96 L486.15,233.69 L487.16,233.42 L488.16,233.14 L489.15,232.87 L490.12,232.59 L491.06,232.32 L491.99,232.06 L492.90,231.80 L493.80,231.53 L494.69,231.25 L495.57,230.96 L496.44,230.66 L497.30,230.37 L498.14,230.08 L498.97,229.78 L499.79,229.50 L500.59,229.22 L501.39,228.95 L502.16,228.70 L502.93,228.46 L503.68,228.23 L504.42,228.03 L505.15,227.83 L505.86,227.64 L506.55,227.46 L507.23,227.28 L507.90,227.12 L508.56,226.96 L509.21,226.81 L509.86,226.67 L510.50,226.54 L511.15,226.41 L511.79,226.30 L512.45,226.19 L513.11,226.08 L513.78,225.98 L514.46,225.88 L515.14,225.78 L515.82,225.69 L516.49,225.60 L517.17,225.52 L517.83,225.45 L518.50,225.39 L519.15,225.35 L519.79,225.33 L520.41,225.32 L521.03,225.34 L521.62,225.38 L522.20,225.44 L522.77,225.55 L523.36,225.70 L523.96,225.88 L524.58,226.10 L525.19,226.34 L525.80,226.60 L526.40,226.86 L526.98,227.13 L527.53,227.40 L528.04,227.65 L528.52,227.89 L528.95,228.10 L529.34,228.29 L529.66,228.43 L530.79,225.66 L530.51,225.57 L530.17,225.44 L529.75,225.27 L529.26,225.07 L528.72,224.84 L528.13,224.60 L527.50,224.34 L526.84,224.09 L526.16,223.84 L525.45,223.61 L524.74,223.39 L524.00,223.21 L523.27,223.06 L522.54,222.97 L521.83,222.90 L521.13,222.87 L520.42,222.86 L519.72,222.88 L519.01,222.93 L518.30,222.98 L517.59,223.06 L516.89,223.15 L516.19,223.25 L515.49,223.35 L514.79,223.46 L514.11,223.58 L513.43,223.69 L512.75,223.81 L512.07,223.92 L511.39,224.05 L510.72,224.18 L510.05,224.31 L509.38,224.46 L508.71,224.61 L508.04,224.77 L507.36,224.94 L506.68,225.12 L505.99,225.30 L505.28,225.49 L504.56,225.69 L503.83,225.90 L503.07,226.12 L502.29,226.34 L501.49,226.59 L500.69,226.84 L499.88,227.11 L499.06,227.38 L498.23,227.67 L497.40,227.95 L496.56,228.24 L495.71,228.52 L494.86,228.80 L494.00,229.08 L493.13,229.35 L492.26,229.60 L491.37,229.85 L490.44,230.09 L489.49,230.35 L488.52,230.61 L487.54,230.87 L486.54,231.13 L485.54,231.39 L484.54,231.63 L483.54,231.87 L482.55,232.09 L481.56,232.29 L480.59,232.47 L479.64,232.63 L478.71,232.76 L477.82,232.86 L476.92,232.95 L475.98,233.00 L475.00,233.03 L474.00,233.03 L472.99,233.01 L471.98,232.97 L471.00,232.92 L470.04,232.87 L469.12,232.81 L468.26,232.75 L467.46,232.69 L466.74,232.64 L466.10,232.61 L465.58,232.59Z" fill="var(--m)"/>
<path d="M465.53,200.65 L465.57,200.92 L465.62,201.25 L465.67,201.65 L465.72,202.12 L465.78,202.66 L465.85,203.24 L465.93,203.87 L466.01,204.55 L466.11,205.26 L466.23,206.00 L466.36,206.78 L466.52,207.58 L466.70,208.39 L466.89,209.22 L467.11,210.05 L467.34,210.92 L467.60,211.83 L467.87,212.78 L468.16,213.76 L468.46,214.77 L468.77,215.78 L469.09,216.80 L469.42,217.81 L469.76,218.81 L470.10,219.79 L470.44,220.74 L470.79,221.66 L471.13,222.53 L471.47,223.35 L471.82,224.14 L472.16,224.90 L472.52,225.64 L472.87,226.36 L473.23,227.05 L473.59,227.72 L473.96,228.39 L474.33,229.03 L474.70,229.67 L475.08,230.31 L475.46,230.94 L475.85,231.58 L476.24,232.22 L476.63,232.85 L477.01,233.49 L477.41,234.13 L477.80,234.77 L478.21,235.42 L478.63,236.08 L479.06,236.74 L479.51,237.40 L479.99,238.07 L480.48,238.75 L481.01,239.43 L481.56,240.11 L482.14,240.80 L482.75,241.48 L483.37,242.15 L483.99,242.81 L484.63,243.47 L485.30,244.14 L485.98,244.82 L486.69,245.49 L487.42,246.17 L488.18,246.84 L488.97,247.52 L489.79,248.20 L490.64,248.87 L491.52,249.55 L492.43,250.22 L493.38,250.88 L494.36,251.55 L495.39,252.23 L496.46,252.93 L497.57,253.63 L498.71,254.34 L499.88,255.05 L501.08,255.74 L502.29,256.43 L503.51,257.10 L504.73,257.75 L505.96,258.36 L507.19,258.95 L508.40,259.50 L509.60,260.00 L510.79,260.46 L511.97,260.88 L513.15,261.27 L514.33,261.63 L515.50,261.96 L516.67,262.26 L517.84,262.54 L519.00,262.79 L520.16,263.03 L521.31,263.24 L522.46,263.44 L523.60,263.63 L524.74,263.80 L525.89,263.97 L527.04,264.13 L528.21,264.28 L529.36,264.40 L530.52,264.50 L531.67,264.58 L532.82,264.65 L533.97,264.70 L535.11,264.74 L536.25,264.77 L537.39,264.79 L538.52,264.80 L539.65,264.80 L540.77,264.80 L541.89,264.80 L543.00,264.79 L544.08,264.77 L545.14,264.74 L546.19,264.70 L547.23,264.66 L548.27,264.61 L549.32,264.55 L550.40,264.48 L551.50,264.39 L552.64,264.30 L553.82,264.19 L555.05,264.07 L556.35,263.94 L557.71,263.79 L559.22,263.61 L560.88,263.41 L562.68,263.17 L564.56,262.92 L566.51,262.65 L568.48,262.37 L570.45,262.08 L572.37,261.80 L574.22,261.52 L575.97,261.26 L577.56,261.02 L578.98,260.81 L580.19,260.63 L581.16,260.48 L580.64,256.72 L579.67,256.83 L578.45,256.99 L577.02,257.18 L575.42,257.39 L573.68,257.62 L571.82,257.87 L569.90,258.12 L567.94,258.37 L565.97,258.62 L564.04,258.87 L562.16,259.09 L560.39,259.29 L558.76,259.47 L557.29,259.61 L555.95,259.73 L554.67,259.83 L553.47,259.92 L552.32,259.99 L551.21,260.06 L550.14,260.11 L549.11,260.15 L548.09,260.18 L547.08,260.21 L546.08,260.22 L545.07,260.23 L544.04,260.22 L542.99,260.21 L541.91,260.20 L540.80,260.19 L539.69,260.17 L538.58,260.15 L537.48,260.13 L536.38,260.10 L535.28,260.05 L534.19,260.00 L533.10,259.94 L532.01,259.86 L530.92,259.77 L529.84,259.66 L528.77,259.54 L527.69,259.39 L526.61,259.23 L525.52,259.04 L524.42,258.84 L523.33,258.63 L522.24,258.42 L521.16,258.19 L520.08,257.94 L519.01,257.68 L517.94,257.39 L516.87,257.09 L515.81,256.77 L514.75,256.42 L513.70,256.04 L512.65,255.63 L511.60,255.20 L510.54,254.73 L509.45,254.21 L508.34,253.64 L507.22,253.05 L506.08,252.42 L504.95,251.77 L503.82,251.09 L502.70,250.41 L501.60,249.71 L500.53,249.02 L499.49,248.32 L498.48,247.64 L497.52,246.96 L496.62,246.32 L495.77,245.69 L494.97,245.06 L494.19,244.43 L493.45,243.81 L492.73,243.18 L492.04,242.55 L491.38,241.92 L490.73,241.29 L490.11,240.66 L489.51,240.03 L488.92,239.40 L488.35,238.77 L487.79,238.14 L487.25,237.52 L486.75,236.92 L486.29,236.33 L485.85,235.74 L485.43,235.16 L485.03,234.57 L484.65,233.98 L484.28,233.39 L483.91,232.79 L483.56,232.18 L483.20,231.56 L482.85,230.93 L482.49,230.29 L482.13,229.64 L481.76,228.98 L481.40,228.33 L481.05,227.70 L480.71,227.09 L480.38,226.48 L480.06,225.88 L479.75,225.28 L479.45,224.68 L479.15,224.07 L478.86,223.45 L478.58,222.82 L478.30,222.17 L478.02,221.50 L477.74,220.80 L477.47,220.07 L477.19,219.30 L476.91,218.47 L476.62,217.59 L476.33,216.67 L476.04,215.72 L475.76,214.76 L475.48,213.78 L475.21,212.81 L474.95,211.85 L474.70,210.91 L474.47,210.00 L474.26,209.14 L474.07,208.32 L473.91,207.58 L473.77,206.91 L473.65,206.25 L473.55,205.59 L473.47,204.95 L473.40,204.32 L473.34,203.70 L473.29,203.11 L473.25,202.55 L473.21,202.01 L473.18,201.49 L473.16,201.01 L473.13,200.55 L473.10,200.12 L473.07,199.75Z" fill="var(--d)"/>
<path d="M466.60,200.52 L466.65,200.81 L466.69,201.15 L466.74,201.56 L466.79,202.03 L466.84,202.56 L466.90,203.14 L466.97,203.77 L467.06,204.43 L467.15,205.13 L467.26,205.85 L467.39,206.61 L467.54,207.39 L467.70,208.18 L467.89,208.98 L468.10,209.80 L468.33,210.66 L468.58,211.57 L468.84,212.52 L469.13,213.49 L469.42,214.49 L469.73,215.50 L470.04,216.51 L470.37,217.51 L470.70,218.51 L471.03,219.48 L471.36,220.42 L471.70,221.32 L472.03,222.18 L472.37,222.99 L472.70,223.77 L473.04,224.52 L473.38,225.24 L473.72,225.94 L474.07,226.62 L474.43,227.29 L474.78,227.94 L475.14,228.58 L475.51,229.22 L475.88,229.85 L476.26,230.48 L476.64,231.12 L477.03,231.76 L477.41,232.40 L477.80,233.03 L478.18,233.67 L478.57,234.31 L478.97,234.96 L479.38,235.61 L479.80,236.26 L480.24,236.92 L480.70,237.58 L481.19,238.24 L481.70,238.91 L482.23,239.58 L482.80,240.25 L483.39,240.92 L484.00,241.58 L484.61,242.23 L485.24,242.89 L485.90,243.56 L486.57,244.22 L487.27,244.89 L487.99,245.56 L488.73,246.23 L489.51,246.90 L490.31,247.57 L491.14,248.24 L492.01,248.91 L492.91,249.57 L493.84,250.23 L494.81,250.90 L495.83,251.58 L496.89,252.27 L497.99,252.98 L499.12,253.68 L500.28,254.39 L501.47,255.08 L502.67,255.77 L503.87,256.43 L505.09,257.08 L506.30,257.69 L507.51,258.27 L508.71,258.82 L509.88,259.32 L511.05,259.77 L512.22,260.19 L513.38,260.58 L514.54,260.94 L515.70,261.26 L516.85,261.57 L518.00,261.84 L519.15,262.10 L520.30,262.34 L521.44,262.55 L522.58,262.76 L523.72,262.95 L524.85,263.13 L525.99,263.30 L527.14,263.46 L528.29,263.60 L529.43,263.72 L530.58,263.82 L531.72,263.91 L532.86,263.97 L534.00,264.03 L535.14,264.07 L536.27,264.10 L537.40,264.12 L538.53,264.14 L539.65,264.14 L540.77,264.14 L541.90,264.14 L543.00,264.13 L544.08,264.12 L545.13,264.10 L546.17,264.07 L547.21,264.03 L548.24,263.98 L549.29,263.92 L550.36,263.85 L551.46,263.77 L552.59,263.68 L553.77,263.58 L555.00,263.47 L556.29,263.34 L557.65,263.19 L559.15,263.02 L560.81,262.82 L562.60,262.59 L564.49,262.34 L566.43,262.07 L568.41,261.80 L570.37,261.52 L572.30,261.24 L574.15,260.97 L575.89,260.71 L577.49,260.48 L578.91,260.27 L580.12,260.09 L581.08,259.95 L580.80,257.88 L579.83,258.00 L578.61,258.16 L577.19,258.36 L575.59,258.58 L573.84,258.82 L571.99,259.08 L570.07,259.34 L568.11,259.60 L566.14,259.86 L564.20,260.11 L562.32,260.35 L560.54,260.56 L558.90,260.74 L557.42,260.90 L556.07,261.02 L554.79,261.13 L553.57,261.23 L552.41,261.32 L551.30,261.39 L550.22,261.45 L549.17,261.50 L548.15,261.55 L547.13,261.58 L546.11,261.60 L545.09,261.61 L544.06,261.62 L543.00,261.62 L541.90,261.61 L540.79,261.61 L539.67,261.60 L538.56,261.58 L537.45,261.56 L536.34,261.53 L535.23,261.49 L534.12,261.45 L533.01,261.39 L531.91,261.31 L530.80,261.22 L529.70,261.12 L528.59,260.99 L527.49,260.85 L526.39,260.69 L525.28,260.50 L524.17,260.31 L523.06,260.11 L521.96,259.90 L520.85,259.67 L519.75,259.43 L518.65,259.17 L517.55,258.89 L516.45,258.59 L515.35,258.26 L514.26,257.91 L513.17,257.53 L512.07,257.12 L510.99,256.68 L509.88,256.19 L508.76,255.66 L507.61,255.10 L506.45,254.49 L505.29,253.86 L504.13,253.20 L502.97,252.52 L501.83,251.83 L500.71,251.14 L499.62,250.44 L498.55,249.74 L497.53,249.05 L496.55,248.38 L495.62,247.72 L494.75,247.08 L493.91,246.44 L493.10,245.80 L492.32,245.16 L491.58,244.51 L490.86,243.87 L490.16,243.23 L489.49,242.58 L488.84,241.94 L488.21,241.30 L487.60,240.65 L487.01,240.01 L486.43,239.37 L485.87,238.74 L485.33,238.11 L484.83,237.49 L484.36,236.88 L483.91,236.26 L483.48,235.65 L483.07,235.03 L482.67,234.42 L482.29,233.80 L481.91,233.18 L481.54,232.55 L481.18,231.91 L480.81,231.28 L480.44,230.63 L480.06,229.98 L479.69,229.33 L479.33,228.70 L478.98,228.08 L478.63,227.46 L478.30,226.85 L477.97,226.23 L477.65,225.61 L477.33,224.98 L477.02,224.34 L476.71,223.69 L476.41,223.01 L476.11,222.31 L475.82,221.59 L475.52,220.83 L475.22,220.02 L474.92,219.17 L474.62,218.26 L474.31,217.33 L474.01,216.36 L473.71,215.38 L473.42,214.40 L473.13,213.41 L472.86,212.44 L472.60,211.49 L472.36,210.57 L472.13,209.69 L471.93,208.85 L471.75,208.09 L471.59,207.36 L471.46,206.65 L471.34,205.96 L471.24,205.27 L471.16,204.61 L471.08,203.96 L471.02,203.35 L470.97,202.76 L470.93,202.21 L470.89,201.69 L470.85,201.21 L470.82,200.77 L470.79,200.37 L470.75,200.03Z" fill="var(--m)"/>
<path d="M468.51,200.29 L468.55,200.61 L468.59,200.97 L468.63,201.40 L468.67,201.87 L468.72,202.40 L468.77,202.97 L468.83,203.57 L468.91,204.22 L468.99,204.89 L469.09,205.59 L469.20,206.31 L469.34,207.05 L469.49,207.81 L469.66,208.57 L469.86,209.37 L470.08,210.21 L470.31,211.11 L470.57,212.04 L470.84,213.01 L471.12,213.99 L471.42,214.99 L471.73,215.99 L472.04,216.99 L472.36,217.96 L472.68,218.92 L473.00,219.84 L473.32,220.73 L473.63,221.56 L473.95,222.34 L474.27,223.10 L474.59,223.83 L474.91,224.53 L475.24,225.21 L475.57,225.87 L475.90,226.52 L476.24,227.16 L476.59,227.79 L476.94,228.41 L477.30,229.04 L477.67,229.66 L478.04,230.30 L478.42,230.94 L478.80,231.58 L479.18,232.23 L479.56,232.87 L479.94,233.50 L480.32,234.14 L480.72,234.78 L481.12,235.41 L481.54,236.05 L481.98,236.69 L482.44,237.33 L482.92,237.97 L483.43,238.62 L483.96,239.27 L484.53,239.92 L485.11,240.57 L485.71,241.21 L486.33,241.87 L486.96,242.52 L487.61,243.18 L488.29,243.83 L488.98,244.49 L489.71,245.15 L490.46,245.80 L491.23,246.46 L492.04,247.12 L492.88,247.77 L493.75,248.43 L494.66,249.08 L495.61,249.74 L496.61,250.42 L497.65,251.11 L498.74,251.81 L499.85,252.51 L501.00,253.21 L502.16,253.91 L503.34,254.59 L504.52,255.25 L505.72,255.89 L506.90,256.50 L508.08,257.08 L509.25,257.61 L510.39,258.10 L511.52,258.55 L512.65,258.97 L513.78,259.35 L514.91,259.71 L516.04,260.04 L517.17,260.34 L518.30,260.62 L519.43,260.87 L520.55,261.11 L521.68,261.34 L522.80,261.54 L523.93,261.74 L525.05,261.92 L526.17,262.10 L527.30,262.26 L528.43,262.40 L529.55,262.53 L530.68,262.63 L531.81,262.72 L532.93,262.79 L534.06,262.84 L535.18,262.89 L536.30,262.92 L537.42,262.95 L538.54,262.96 L539.66,262.97 L540.78,262.98 L541.90,262.98 L543.00,262.98 L544.07,262.97 L545.11,262.96 L546.14,262.93 L547.17,262.90 L548.20,262.86 L549.24,262.81 L550.30,262.75 L551.39,262.68 L552.51,262.60 L553.68,262.50 L554.90,262.40 L556.19,262.27 L557.54,262.14 L559.04,261.98 L560.69,261.78 L562.47,261.56 L564.35,261.32 L566.30,261.06 L568.27,260.79 L570.23,260.52 L572.16,260.25 L574.01,259.98 L575.75,259.73 L577.35,259.50 L578.77,259.30 L579.99,259.13 L580.95,259.00 L580.88,258.43 L579.91,258.56 L578.69,258.73 L577.27,258.93 L575.67,259.15 L573.93,259.40 L572.07,259.66 L570.15,259.92 L568.19,260.19 L566.22,260.45 L564.28,260.71 L562.40,260.95 L560.62,261.17 L558.97,261.36 L557.48,261.51 L556.13,261.64 L554.85,261.76 L553.63,261.86 L552.46,261.95 L551.34,262.03 L550.26,262.10 L549.21,262.15 L548.17,262.20 L547.15,262.23 L546.13,262.26 L545.10,262.28 L544.06,262.29 L543.00,262.29 L541.90,262.29 L540.78,262.29 L539.67,262.28 L538.55,262.27 L537.44,262.25 L536.32,262.22 L535.20,262.19 L534.09,262.14 L532.97,262.08 L531.86,262.01 L530.74,261.92 L529.63,261.82 L528.51,261.69 L527.40,261.55 L526.28,261.39 L525.17,261.21 L524.05,261.02 L522.93,260.82 L521.82,260.61 L520.70,260.39 L519.59,260.15 L518.47,259.89 L517.36,259.61 L516.25,259.31 L515.13,258.98 L514.02,258.63 L512.91,258.24 L511.80,257.83 L510.69,257.38 L509.57,256.90 L508.42,256.36 L507.26,255.79 L506.09,255.18 L504.91,254.55 L503.74,253.89 L502.57,253.21 L501.42,252.52 L500.29,251.82 L499.18,251.12 L498.11,250.42 L497.07,249.73 L496.08,249.05 L495.15,248.39 L494.25,247.75 L493.40,247.10 L492.57,246.45 L491.78,245.80 L491.02,245.15 L490.29,244.50 L489.58,243.85 L488.89,243.20 L488.23,242.55 L487.59,241.90 L486.97,241.26 L486.37,240.61 L485.78,239.96 L485.20,239.32 L484.65,238.68 L484.13,238.05 L483.64,237.42 L483.18,236.79 L482.74,236.17 L482.31,235.54 L481.90,234.91 L481.51,234.28 L481.12,233.65 L480.75,233.02 L480.37,232.39 L480.00,231.75 L479.63,231.10 L479.25,230.45 L478.87,229.81 L478.50,229.18 L478.15,228.55 L477.79,227.93 L477.45,227.31 L477.11,226.69 L476.78,226.06 L476.46,225.42 L476.14,224.77 L475.82,224.10 L475.51,223.42 L475.20,222.70 L474.89,221.96 L474.59,221.19 L474.28,220.37 L473.97,219.50 L473.65,218.59 L473.34,217.64 L473.03,216.67 L472.73,215.68 L472.43,214.69 L472.14,213.70 L471.86,212.72 L471.59,211.76 L471.35,210.84 L471.11,209.95 L470.90,209.11 L470.72,208.33 L470.55,207.58 L470.41,206.85 L470.28,206.13 L470.18,205.43 L470.08,204.75 L470.00,204.09 L469.94,203.46 L469.88,202.86 L469.83,202.30 L469.79,201.78 L469.75,201.30 L469.71,200.87 L469.68,200.49 L469.64,200.16Z" fill="var(--l)" fill-opacity="0.6"/>
<path d="M521.49,227.06 L521.83,227.22 L522.27,227.39 L522.74,227.56 L523.24,227.74 L523.77,227.93 L524.32,228.13 L524.88,228.34 L525.45,228.56 L526.01,228.80 L526.56,229.05 L527.08,229.30 L527.55,229.57 L527.98,229.83 L528.36,230.11 L528.74,230.45 L529.15,230.82 L529.55,231.21 L529.96,231.63 L530.37,232.06 L530.77,232.52 L531.18,233.00 L531.58,233.49 L531.99,234.01 L532.39,234.54 L532.80,235.09 L533.20,235.66 L533.61,236.25 L534.01,236.84 L534.40,237.43 L534.79,238.02 L535.17,238.62 L535.54,239.24 L535.91,239.88 L536.29,240.53 L536.66,241.21 L537.04,241.92 L537.43,242.65 L537.82,243.41 L538.23,244.21 L538.65,245.05 L539.09,245.92 L539.54,246.82 L540.05,247.74 L540.57,248.72 L541.11,249.76 L541.67,250.84 L542.24,251.96 L542.81,253.10 L543.39,254.27 L543.98,255.45 L544.56,256.62 L545.13,257.79 L545.69,258.95 L546.25,260.08 L546.78,261.18 L547.29,262.22 L547.82,263.17 L548.32,264.11 L548.81,265.07 L549.30,266.03 L549.78,267.01 L550.27,267.98 L550.75,268.95 L551.25,269.92 L551.75,270.88 L552.27,271.82 L552.81,272.76 L553.37,273.68 L553.96,274.57 L554.58,275.42 L555.13,276.27 L555.68,277.06 L556.24,277.83 L556.82,278.58 L557.40,279.30 L558.00,279.99 L558.62,280.65 L559.24,281.29 L559.88,281.90 L560.53,282.49 L561.19,283.05 L561.86,283.59 L562.54,284.10 L563.28,284.62 L564.14,285.09 L565.06,285.51 L565.97,285.87 L566.89,286.18 L567.79,286.46 L568.67,286.70 L569.53,286.91 L570.35,287.10 L571.12,287.26 L571.82,287.40 L572.45,287.52 L572.98,287.61 L573.39,287.69 L573.73,287.75 L575.67,281.45 L575.24,281.28 L574.69,281.09 L574.10,280.91 L573.48,280.71 L572.83,280.51 L572.14,280.30 L571.45,280.08 L570.75,279.84 L570.06,279.58 L569.40,279.32 L568.78,279.04 L568.23,278.76 L567.75,278.48 L567.32,278.18 L566.83,277.88 L566.31,277.54 L565.80,277.17 L565.29,276.79 L564.79,276.38 L564.29,275.95 L563.79,275.50 L563.30,275.02 L562.81,274.52 L562.32,273.98 L561.84,273.42 L561.36,272.83 L560.89,272.21 L560.42,271.58 L560.06,270.88 L559.71,270.15 L559.37,269.37 L559.03,268.55 L558.69,267.67 L558.35,266.76 L558.00,265.81 L557.65,264.83 L557.29,263.81 L556.91,262.77 L556.52,261.70 L556.11,260.60 L555.67,259.49 L555.21,258.38 L554.69,257.32 L554.15,256.22 L553.60,255.09 L553.03,253.93 L552.45,252.74 L551.87,251.55 L551.27,250.36 L550.68,249.16 L550.09,247.99 L549.50,246.83 L548.92,245.70 L548.35,244.61 L547.79,243.57 L547.26,242.58 L546.71,241.68 L546.18,240.82 L545.65,239.98 L545.14,239.18 L544.64,238.40 L544.13,237.64 L543.63,236.90 L543.13,236.18 L542.63,235.48 L542.12,234.79 L541.60,234.12 L541.08,233.45 L540.54,232.80 L539.99,232.16 L539.43,231.55 L538.87,230.95 L538.31,230.37 L537.73,229.80 L537.16,229.25 L536.57,228.71 L535.99,228.19 L535.39,227.69 L534.79,227.20 L534.18,226.74 L533.56,226.30 L532.94,225.88 L532.30,225.48 L531.64,225.09 L530.93,224.69 L530.18,224.33 L529.44,224.02 L528.69,223.74 L527.96,223.50 L527.24,223.29 L526.54,223.10 L525.88,222.93 L525.25,222.78 L524.68,222.66 L524.17,222.55 L523.73,222.46 L523.40,222.40 L523.11,222.34Z" fill="var(--d)"/>
<path d="M522.16,225.12 L522.48,225.23 L522.87,225.36 L523.33,225.50 L523.83,225.65 L524.38,225.81 L524.96,225.99 L525.57,226.18 L526.19,226.39 L526.81,226.62 L527.44,226.86 L528.05,227.13 L528.64,227.41 L529.19,227.72 L529.71,228.04 L530.21,228.40 L530.71,228.78 L531.20,229.19 L531.70,229.61 L532.19,230.06 L532.67,230.53 L533.16,231.02 L533.64,231.52 L534.12,232.05 L534.59,232.59 L535.07,233.15 L535.54,233.72 L536.01,234.31 L536.47,234.91 L536.93,235.52 L537.38,236.14 L537.82,236.77 L538.25,237.41 L538.68,238.07 L539.11,238.74 L539.53,239.44 L539.96,240.15 L540.40,240.90 L540.84,241.67 L541.29,242.47 L541.75,243.30 L542.23,244.17 L542.72,245.07 L543.24,246.02 L543.77,247.03 L544.33,248.09 L544.89,249.19 L545.47,250.32 L546.05,251.48 L546.64,252.66 L547.23,253.84 L547.81,255.03 L548.39,256.20 L548.95,257.36 L549.50,258.49 L550.04,259.59 L550.55,260.64 L551.05,261.65 L551.53,262.67 L551.99,263.68 L552.44,264.69 L552.88,265.69 L553.31,266.68 L553.74,267.66 L554.17,268.62 L554.61,269.56 L555.05,270.47 L555.51,271.36 L555.98,272.22 L556.47,273.05 L556.99,273.84 L557.50,274.60 L558.02,275.32 L558.55,276.02 L559.08,276.68 L559.63,277.33 L560.18,277.94 L560.75,278.53 L561.32,279.09 L561.90,279.63 L562.49,280.14 L563.09,280.63 L563.70,281.10 L564.31,281.54 L564.94,281.97 L565.63,282.36 L566.36,282.73 L567.13,283.06 L567.92,283.35 L568.72,283.63 L569.53,283.87 L570.32,284.10 L571.09,284.30 L571.82,284.48 L572.51,284.64 L573.13,284.79 L573.69,284.93 L574.15,285.05 L574.53,285.16 L575.31,282.63 L574.89,282.48 L574.37,282.32 L573.79,282.15 L573.17,281.97 L572.50,281.78 L571.81,281.58 L571.09,281.36 L570.36,281.13 L569.63,280.88 L568.93,280.61 L568.26,280.32 L567.63,280.03 L567.07,279.72 L566.56,279.39 L566.03,279.05 L565.48,278.68 L564.93,278.28 L564.40,277.86 L563.86,277.42 L563.34,276.96 L562.82,276.47 L562.30,275.95 L561.79,275.41 L561.29,274.85 L560.79,274.25 L560.29,273.63 L559.80,272.97 L559.32,272.30 L558.91,271.57 L558.52,270.81 L558.13,270.01 L557.76,269.16 L557.38,268.28 L557.01,267.36 L556.64,266.40 L556.26,265.42 L555.88,264.41 L555.48,263.38 L555.07,262.33 L554.64,261.26 L554.19,260.18 L553.72,259.10 L553.20,258.04 L552.67,256.95 L552.11,255.81 L551.55,254.65 L550.97,253.47 L550.38,252.28 L549.79,251.09 L549.20,249.90 L548.61,248.73 L548.03,247.58 L547.45,246.46 L546.89,245.38 L546.34,244.35 L545.81,243.38 L545.28,242.47 L544.76,241.61 L544.26,240.78 L543.77,239.97 L543.28,239.20 L542.80,238.44 L542.32,237.71 L541.85,237.00 L541.37,236.30 L540.88,235.63 L540.39,234.96 L539.89,234.31 L539.39,233.67 L538.87,233.04 L538.34,232.43 L537.81,231.84 L537.27,231.26 L536.73,230.69 L536.19,230.14 L535.64,229.61 L535.08,229.09 L534.52,228.60 L533.96,228.12 L533.38,227.66 L532.81,227.22 L532.22,226.80 L531.63,226.41 L531.02,226.03 L530.37,225.66 L529.69,225.32 L528.99,225.01 L528.29,224.74 L527.59,224.50 L526.90,224.28 L526.23,224.08 L525.59,223.91 L524.97,223.75 L524.41,223.61 L523.90,223.49 L523.46,223.39 L523.10,223.30 L522.81,223.23Z" fill="var(--m)"/>
<path d="M522.28,224.76 L522.60,224.87 L522.98,224.99 L523.44,225.12 L523.94,225.26 L524.49,225.42 L525.08,225.59 L525.69,225.78 L526.32,225.99 L526.96,226.21 L527.60,226.46 L528.23,226.73 L528.84,227.01 L529.42,227.32 L529.96,227.66 L530.48,228.02 L531.00,228.41 L531.51,228.81 L532.02,229.24 L532.52,229.69 L533.03,230.16 L533.52,230.65 L534.02,231.16 L534.51,231.69 L535.00,232.23 L535.49,232.79 L535.97,233.36 L536.45,233.95 L536.93,234.56 L537.40,235.17 L537.86,235.79 L538.31,236.42 L538.75,237.07 L539.19,237.73 L539.63,238.41 L540.06,239.11 L540.50,239.83 L540.95,240.57 L541.40,241.35 L541.85,242.15 L542.32,242.98 L542.81,243.85 L543.31,244.75 L543.83,245.70 L544.37,246.72 L544.92,247.78 L545.49,248.88 L546.07,250.02 L546.65,251.18 L547.24,252.36 L547.83,253.55 L548.41,254.73 L548.99,255.91 L549.55,257.06 L550.10,258.20 L550.64,259.29 L551.15,260.35 L551.65,261.37 L552.12,262.40 L552.57,263.42 L553.02,264.44 L553.45,265.45 L553.87,266.44 L554.29,267.42 L554.71,268.38 L555.14,269.31 L555.57,270.22 L556.01,271.11 L556.46,271.96 L556.94,272.77 L557.43,273.55 L557.94,274.29 L558.45,275.00 L558.97,275.68 L559.50,276.34 L560.04,276.96 L560.59,277.56 L561.14,278.14 L561.70,278.69 L562.27,279.21 L562.85,279.71 L563.44,280.18 L564.03,280.64 L564.64,281.07 L565.25,281.48 L565.90,281.86 L566.60,282.21 L567.34,282.54 L568.11,282.83 L568.90,283.10 L569.68,283.35 L570.46,283.58 L571.22,283.78 L571.95,283.97 L572.63,284.14 L573.26,284.29 L573.82,284.43 L574.29,284.56 L574.68,284.68 L574.87,284.04 L574.48,283.92 L573.99,283.78 L573.42,283.63 L572.80,283.47 L572.12,283.29 L571.40,283.10 L570.66,282.89 L569.89,282.66 L569.12,282.42 L568.36,282.15 L567.63,281.85 L566.92,281.54 L566.26,281.20 L565.66,280.83 L565.07,280.45 L564.48,280.03 L563.90,279.60 L563.33,279.14 L562.76,278.66 L562.21,278.15 L561.66,277.62 L561.12,277.07 L560.58,276.48 L560.05,275.88 L559.53,275.24 L559.02,274.58 L558.51,273.88 L558.01,273.16 L557.55,272.40 L557.10,271.60 L556.66,270.77 L556.24,269.90 L555.83,268.99 L555.42,268.06 L555.02,267.11 L554.61,266.13 L554.20,265.13 L553.78,264.11 L553.35,263.09 L552.90,262.05 L552.43,261.01 L551.95,259.96 L551.43,258.91 L550.90,257.81 L550.34,256.68 L549.78,255.52 L549.20,254.34 L548.62,253.16 L548.03,251.97 L547.44,250.79 L546.85,249.62 L546.27,248.48 L545.70,247.37 L545.14,246.30 L544.60,245.29 L544.08,244.33 L543.57,243.42 L543.08,242.56 L542.60,241.73 L542.13,240.92 L541.67,240.15 L541.21,239.40 L540.76,238.68 L540.31,237.97 L539.86,237.29 L539.41,236.62 L538.95,235.97 L538.49,235.33 L538.01,234.71 L537.53,234.09 L537.03,233.48 L536.54,232.89 L536.04,232.32 L535.53,231.75 L535.03,231.21 L534.52,230.68 L534.00,230.17 L533.49,229.68 L532.97,229.21 L532.44,228.75 L531.91,228.32 L531.38,227.91 L530.84,227.52 L530.29,227.16 L529.71,226.81 L529.10,226.49 L528.47,226.20 L527.81,225.93 L527.16,225.68 L526.50,225.46 L525.86,225.26 L525.24,225.07 L524.64,224.90 L524.09,224.75 L523.58,224.62 L523.13,224.49 L522.75,224.38 L522.44,224.28Z" fill="var(--l)" fill-opacity="0.5"/>
<ellipse cx="469.3" cy="200.6" rx="3.4" ry="1.1" fill="var(--k)"/><ellipse cx="454.9" cy="228.6" rx="3.4" ry="1.4" fill="var(--k)"/><path d="M464.5,232 L488.5,232 L488.5,236.6 L464.5,236.6 Z" fill="var(--k)" opacity="0.75"/>
</g>
<g id="ribo">
<rect x="248.5" y="295" width="55.5" height="46.5" fill="#f6eadd" filter="url(#bl1)"/>
<path d="M248.92,330.48 C249.29,329.39 249.74,328.13 251.66,327.42 C253.57,326.71 256.22,326.34 260.41,326.21 C264.61,326.09 271.90,326.82 276.82,326.65 C281.75,326.49 286.30,325.32 289.95,325.23 C293.60,325.14 296.77,325.32 298.70,326.11 C300.64,326.89 301.55,328.66 301.55,329.93 C301.55,331.21 300.64,332.85 298.70,333.76 C296.77,334.68 293.23,335.02 289.95,335.40 C286.67,335.79 282.11,335.68 279.01,336.06 C275.91,336.44 273.72,336.90 271.35,337.70 C268.98,338.50 266.98,340.26 264.79,340.88 C262.60,341.50 260.23,341.88 258.22,341.42 C256.22,340.97 254.21,339.38 252.75,338.14 C251.29,336.90 250.11,335.26 249.47,333.98 C248.83,332.71 248.56,331.58 248.92,330.48Z" fill="#b9aea4"/>
<path d="M251.89,327.88 C253.48,327.65 257.59,326.63 261.46,326.51 C265.34,326.40 270.81,327.20 275.14,327.20 C279.48,327.20 283.58,326.63 287.46,326.51 C291.33,326.40 296.58,326.51 298.40,326.51" fill="none" stroke="#d9d0c8" stroke-width="1.4" stroke-linecap="round" filter="url(#bl05)"/>
<path d="M251.11,314.29 C251.62,313.34 253.39,313.12 254.94,312.54 C256.49,311.95 258.59,311.95 260.41,310.79 C262.23,309.62 264.06,307.25 265.88,305.54 C267.71,303.82 269.16,301.82 271.35,300.50 C273.54,299.19 276.28,297.77 279.01,297.66 C281.75,297.55 285.21,298.39 287.76,299.85 C290.32,301.31 292.76,304.04 294.33,306.41 C295.90,308.78 297.06,311.70 297.17,314.07 C297.28,316.44 296.37,318.90 294.98,320.63 C293.60,322.37 291.34,323.73 288.86,324.46 C286.38,325.19 282.93,325.08 280.11,325.01 C277.28,324.94 274.27,324.03 271.90,324.03 C269.53,324.03 267.80,324.74 265.88,325.01 C263.97,325.28 262.23,325.67 260.41,325.67 C258.59,325.67 256.29,325.63 254.94,325.01 C253.59,324.39 252.83,323.08 252.32,321.95 C251.80,320.82 252.08,319.50 251.88,318.23 C251.68,316.95 250.60,315.24 251.11,314.29Z" fill="url(#gdark)"/>
<ellipse cx="275.8" cy="305.0" rx="3.2" ry="1.8" fill="#cfc9c4" opacity="0.75" filter="url(#bl05)" transform="rotate(-20 275.8 305.0)"/>
<ellipse cx="255.0" cy="320.8" rx="1.5" ry="1.6" fill="#8d8783" opacity="0.8" filter="url(#bl05)"/>
</g>
<g id="chem">
<g stroke="#1c1c1c" stroke-width="1.45" stroke-linecap="round"><line x1="181.00" y1="266.40" x2="175.07" y2="269.73"/><line x1="172.80" y1="273.60" x2="172.80" y2="279.60"/><line x1="172.80" y1="279.60" x2="178.73" y2="282.93"/><line x1="183.27" y1="282.93" x2="189.20" y2="279.60"/><line x1="189.20" y1="279.60" x2="189.20" y2="271.00"/><line x1="189.20" y1="271.00" x2="181.00" y2="266.40"/><line x1="174.68" y1="278.70" x2="178.52" y2="280.86"/><line x1="190.90" y1="278.40" x2="190.90" y2="272.20"/><line x1="181.00" y1="266.40" x2="181.00" y2="260.80"/><line x1="182.60" y1="265.80" x2="182.60" y2="260.80"/><line x1="189.20" y1="271.00" x2="195.13" y2="267.67"/><line x1="199.67" y1="267.67" x2="205.60" y2="271.00"/><line x1="205.60" y1="271.00" x2="205.60" y2="279.60"/><line x1="205.60" y1="279.60" x2="199.67" y2="282.93"/><line x1="195.13" y1="282.93" x2="189.20" y2="279.60"/><line x1="172.80" y1="279.60" x2="167.08" y2="283.06"/><line x1="205.60" y1="271.00" x2="213.80" y2="266.40"/><line x1="213.80" y1="266.40" x2="219.73" y2="269.73"/><line x1="232.68" y1="267.10" x2="232.68" y2="258.30"/><line x1="232.68" y1="258.30" x2="240.30" y2="253.90"/><line x1="240.30" y1="253.90" x2="247.92" y2="258.30"/><line x1="247.92" y1="258.30" x2="247.92" y2="267.10"/><line x1="247.92" y1="267.10" x2="240.30" y2="271.50"/><line x1="240.30" y1="271.50" x2="232.68" y2="267.10"/><line x1="234.81" y1="259.53" x2="240.30" y2="256.36"/><line x1="245.79" y1="259.53" x2="245.79" y2="265.87"/><line x1="240.30" y1="269.04" x2="234.81" y2="265.87"/><line x1="224.44" y1="270.11" x2="232.68" y2="267.10"/><line x1="247.92" y1="258.30" x2="256.12" y2="253.70"/><line x1="256.12" y1="253.70" x2="256.12" y2="247.50"/><line x1="257.82" y1="252.90" x2="257.82" y2="247.50"/><line x1="256.12" y1="253.70" x2="262.05" y2="257.03"/><line x1="266.63" y1="257.10" x2="273.12" y2="253.70"/><line x1="273.12" y1="253.70" x2="281.32" y2="258.30"/><line x1="281.32" y1="258.30" x2="289.52" y2="253.70"/><line x1="289.52" y1="253.70" x2="296.09" y2="257.64"/><line x1="273.12" y1="253.70" x2="273.12" y2="247.70"/></g>
<g font-family="'Liberation Sans',sans-serif" font-weight="bold" fill="#1c1c1c" stroke="#1c1c1c" stroke-width="0.28"><text x="181.00" y="260.20" text-anchor="middle" font-size="6.1">O</text><text x="174.90" y="273.00" text-anchor="end" font-size="6.1">HN</text><text x="181.00" y="286.20" text-anchor="middle" font-size="6.1">N</text><text x="166.40" y="286.40" text-anchor="end" font-size="6.1">H<tspan font-size="4" dy="1">2</tspan><tspan dy="-1">N</tspan></text><text x="197.40" y="268.40" text-anchor="middle" font-size="6.1">N</text><text x="197.40" y="263.20" text-anchor="middle" font-size="6.1">H</text><text x="197.40" y="286.20" text-anchor="middle" font-size="6.1">N</text><text x="197.40" y="291.40" text-anchor="middle" font-size="6.1">H</text><text x="222.30" y="273.00" text-anchor="middle" font-size="6.1">N</text><text x="222.30" y="278.20" text-anchor="middle" font-size="6.1">H</text><text x="256.52" y="246.90" text-anchor="middle" font-size="6.1">O</text><text x="264.32" y="260.30" text-anchor="middle" font-size="6.1">N</text><text x="264.32" y="265.30" text-anchor="middle" font-size="6.1">H</text><text x="270.52" y="247.10" text-anchor="start" font-size="6.1">COOH</text><text x="296.52" y="260.10" text-anchor="start" font-size="6.1">COOH</text></g>
</g>
</defs>
<rect width="768" height="512" fill="#fff"/>
<g filter="url(#soft)">
<path d="M342.2,95.50 A271.00,142.25 0 0 0 99.00,237 A251.00,145.47 0 0 0 342.2,382.40 Z" fill="#fdecde"/>
<path d="M342.2,68.40 A306.80,172.92 0 0 0 73.20,240 A316.80,166.41 0 0 0 342.2,404.50 L342.2,388.70 A306.30,151.05 0 0 1 89.70,240 A305.30,158.39 0 0 1 342.2,84.00 Z" fill="url(#gb)"/>
<path d="M342.2,95.50 A271.00,142.25 0 0 0 99.00,237 A251.00,145.47 0 0 0 342.2,382.40" fill="none" stroke="#0a0a0a" stroke-width="2.9"/>
<path d="M378.0,95.50 A260.30,141.84 0 0 1 620.30,237 A250.30,145.47 0 0 1 378.0,382.40 Z" fill="#fdecde"/>
<path d="M378.0,68.40 A304.90,172.95 0 0 1 644.90,240 A308.90,166.04 0 0 1 378.0,404.50 L378.0,389.00 A298.40,150.72 0 0 0 631.40,240 A268.40,156.24 0 0 0 378.0,84.00 Z" fill="#d1635c" stroke="#8fb4df" stroke-width="1.2"/>
<path d="M378.0,95.50 A260.30,141.84 0 0 1 620.30,237 A250.30,145.47 0 0 1 378.0,382.40" fill="none" stroke="#0a0a0a" stroke-width="2.9"/>
<g transform="translate(475.8,81.2) rotate(18.5)">
<path d="M-16.8,0 L-16.8,32.3 A16.8,4.8 0 0 0 16.8,32.3 L16.8,0 Z" fill="url(#gcyl)" stroke="#5f8fd2" stroke-width="1.5" stroke-linejoin="round"/>
<ellipse cx="0" cy="0" rx="16.8" ry="4.4" fill="#c9b6dc" stroke="#6b93d6" stroke-width="1.2"/>
<ellipse cx="1" cy="0.3" rx="13" ry="2.8" fill="#d9c3df" opacity="0.8"/>
</g>
<use href="#dnaB" style="--d:#27507f;--m:#3f76b6;--l:#86b2e2;--r:#5e90cc;--k:#1c3556"/>
<use href="#dnaR" style="--d:#662a2c;--m:#904346;--l:#c48484;--r:#a45a5c;--k:#3c1819"/>
<use href="#ribo"/>
<use href="#ribo" transform="translate(280.7,-128.6)"/>
<use href="#chem"/>
<use href="#chem" transform="translate(229,-108.3)"/>
<rect x="396.5" y="232" width="67.5" height="40" fill="#f7ece0" filter="url(#bl1)"/>
<g filter="url(#bl05)"><path d="M409.76,244.20 C410.13,243.96 411.21,243.24 411.94,242.78 C412.68,242.32 413.37,241.77 414.16,241.41 C414.94,241.05 416.06,241.16 416.63,240.62 C417.21,240.09 417.26,239.01 417.59,238.21 C417.93,237.41 418.06,236.06 418.64,235.83 C419.21,235.60 421.06,236.56 421.04,236.83 C421.02,237.10 419.35,237.48 418.51,237.45 C417.68,237.43 416.68,236.46 416.03,236.69 C415.37,236.93 415.24,238.65 414.59,238.86 C413.95,239.06 412.53,238.52 412.16,237.93 C411.80,237.34 411.94,235.78 412.41,235.34 C412.89,234.91 414.36,234.94 415.01,235.31 C415.66,235.68 415.67,237.11 416.31,237.57 C416.95,238.02 418.46,237.52 418.87,238.04 C419.27,238.55 418.70,239.77 418.72,240.63 C418.75,241.50 419.29,242.50 419.01,243.22 C418.74,243.93 417.73,244.38 417.07,244.94 C416.40,245.49 415.79,246.17 415.03,246.55 C414.27,246.94 413.36,247.03 412.53,247.27 C411.70,247.50 410.87,247.94 410.03,247.98 C409.19,248.02 408.33,247.62 407.47,247.52 C406.61,247.42 405.31,247.40 404.87,247.38" fill="none" stroke="#9a938b" stroke-width="0.75" stroke-opacity="0.75"/><path d="M416.40,239.31 C416.69,239.63 417.42,241.08 418.12,241.26 C418.81,241.44 419.75,240.35 420.56,240.37 C421.36,240.38 422.97,241.07 422.96,241.36 C422.94,241.66 421.12,242.36 420.47,242.12 C419.82,241.89 419.11,240.71 419.04,239.95 C418.96,239.19 420.22,238.18 420.02,237.55 C419.82,236.91 418.61,236.29 417.82,236.16 C417.03,236.04 415.99,237.04 415.30,236.81 C414.61,236.58 413.56,234.93 413.68,234.78 C413.80,234.62 416.02,235.91 416.03,235.88 C416.05,235.85 414.58,234.75 413.78,234.59 C412.97,234.43 411.75,234.44 411.20,234.91 C410.64,235.38 410.50,236.56 410.45,237.40 C410.40,238.24 411.23,239.34 410.91,239.96 C410.60,240.57 409.38,241.02 408.57,241.09 C407.76,241.16 406.79,240.19 406.07,240.39 C405.35,240.58 404.58,241.50 404.25,242.24 C403.92,242.99 403.73,244.19 404.08,244.84 C404.43,245.49 405.63,246.20 406.34,246.13 C407.04,246.06 407.54,244.66 408.30,244.42 C409.06,244.19 410.15,244.98 410.88,244.73 C411.62,244.47 412.42,243.20 412.72,242.89" fill="none" stroke="#9a938b" stroke-width="0.75" stroke-opacity="0.75"/><path d="M412.54,241.95 C412.42,242.37 411.65,243.72 411.83,244.45 C412.01,245.18 413.17,245.62 413.62,246.34 C414.07,247.06 413.94,248.31 414.52,248.78 C415.10,249.25 416.24,249.12 417.10,249.15 C417.96,249.17 418.98,249.31 419.69,248.94 C420.39,248.57 421.04,247.70 421.34,246.93 C421.63,246.16 421.86,244.79 421.45,244.33 C421.03,243.88 419.70,244.11 418.85,244.19 C418.00,244.28 417.07,245.01 416.33,244.82 C415.59,244.63 414.92,243.74 414.42,243.05 C413.93,242.36 413.96,241.09 413.35,240.68 C412.74,240.28 411.26,241.05 410.75,240.61 C410.24,240.17 410.74,238.72 410.30,238.05 C409.87,237.38 408.94,236.80 408.15,236.60 C407.36,236.39 406.33,237.05 405.56,236.81 C404.79,236.58 403.78,235.03 403.54,235.18 C403.29,235.33 403.66,237.04 404.10,237.71 C404.55,238.39 405.59,238.65 406.20,239.25 C406.82,239.85 407.16,240.73 407.79,241.31 C408.42,241.88 409.24,242.27 410.00,242.68 C410.76,243.08 412.04,243.14 412.37,243.75 C412.70,244.35 412.07,245.89 412.01,246.32" fill="none" stroke="#9a938b" stroke-width="0.75" stroke-opacity="0.75"/><path d="M410.58,244.49 C410.51,244.06 410.63,242.54 410.17,241.92 C409.71,241.31 408.20,241.43 407.82,240.81 C407.43,240.19 407.51,238.91 407.86,238.21 C408.21,237.51 409.48,237.30 409.91,236.61 C410.34,235.91 410.69,234.22 410.44,234.06 C410.18,233.90 408.76,234.96 408.39,235.66 C408.03,236.36 408.69,237.72 408.25,238.26 C407.80,238.80 406.45,239.12 405.73,238.91 C405.01,238.71 404.13,237.75 403.95,237.02 C403.76,236.29 404.25,234.59 404.64,234.51 C405.02,234.44 405.93,235.79 406.23,236.56 C406.54,237.34 406.13,238.41 406.47,239.15 C406.81,239.90 408.03,240.28 408.28,241.02 C408.52,241.76 408.15,242.77 407.92,243.60 C407.69,244.42 406.99,245.16 406.89,245.98 C406.79,246.81 406.88,247.92 407.34,248.55 C407.79,249.18 409.05,249.18 409.63,249.77 C410.21,250.36 410.17,251.75 410.79,252.10 C411.42,252.44 412.67,252.21 413.38,251.84 C414.09,251.47 414.46,250.47 415.07,249.87 C415.69,249.26 416.32,248.35 417.07,248.20 C417.82,248.05 419.15,248.83 419.56,248.95" fill="none" stroke="#9a938b" stroke-width="0.75" stroke-opacity="0.75"/><path d="M413.97,238.60 C414.07,238.18 414.84,236.67 414.54,236.07 C414.24,235.46 413.00,235.06 412.18,234.97 C411.37,234.87 410.47,235.26 409.64,235.51 C408.81,235.75 407.60,235.84 407.21,236.43 C406.81,237.01 406.91,238.33 407.26,239.03 C407.62,239.72 408.58,240.21 409.34,240.58 C410.11,240.96 411.04,240.97 411.85,241.29 C412.65,241.61 413.40,242.52 414.15,242.49 C414.91,242.46 415.74,241.70 416.37,241.12 C416.99,240.54 417.22,239.30 417.90,239.02 C418.58,238.74 420.01,238.92 420.47,239.42 C420.93,239.92 420.78,241.18 420.65,242.02 C420.53,242.85 420.21,243.77 419.71,244.44 C419.22,245.11 418.41,245.60 417.67,246.05 C416.94,246.50 415.76,246.52 415.31,247.13 C414.86,247.74 414.62,249.11 414.96,249.71 C415.30,250.31 416.70,250.91 417.35,250.73 C418.01,250.55 419.04,248.87 418.87,248.62 C418.70,248.37 416.76,248.70 416.35,249.24 C415.93,249.78 416.49,251.82 416.38,251.84 C416.26,251.86 416.08,250.06 415.65,249.34 C415.22,248.62 414.11,247.82 413.80,247.52" fill="none" stroke="#9a938b" stroke-width="0.75" stroke-opacity="0.75"/><path d="M412.20,247.74 C412.63,247.75 414.01,247.57 414.80,247.83 C415.59,248.09 417.01,249.02 416.94,249.31 C416.86,249.59 415.17,249.66 414.34,249.51 C413.52,249.36 412.39,249.03 411.99,248.41 C411.59,247.79 411.60,246.46 411.97,245.81 C412.33,245.15 413.51,244.99 414.19,244.47 C414.88,243.94 415.31,242.94 416.05,242.65 C416.80,242.37 418.01,242.36 418.65,242.76 C419.30,243.15 419.58,244.23 419.93,245.02 C420.27,245.81 420.98,247.26 420.72,247.50 C420.46,247.73 419.07,246.89 418.35,246.43 C417.63,245.96 417.13,244.79 416.41,244.69 C415.70,244.59 414.89,245.60 414.07,245.81 C413.24,246.02 412.01,246.35 411.47,245.96 C410.93,245.56 410.63,244.15 410.84,243.43 C411.05,242.72 411.99,242.00 412.74,241.66 C413.49,241.31 414.50,241.59 415.32,241.36 C416.15,241.14 416.87,240.37 417.69,240.29 C418.51,240.21 419.41,240.60 420.22,240.89 C421.03,241.18 422.36,241.47 422.55,242.04 C422.74,242.62 421.95,243.80 421.35,244.35 C420.75,244.90 419.35,245.17 418.94,245.34" fill="none" stroke="#9a938b" stroke-width="0.75" stroke-opacity="0.75"/><path d="M435.66,257.44 C435.98,257.16 436.88,256.18 437.60,255.72 C438.33,255.27 439.29,254.57 440.00,254.71 C440.71,254.84 441.11,256.18 441.85,256.52 C442.60,256.87 443.89,257.14 444.44,256.76 C445.00,256.39 445.18,255.11 445.20,254.27 C445.21,253.44 444.53,252.60 444.52,251.76 C444.51,250.92 445.27,250.01 445.13,249.23 C444.98,248.45 444.34,247.46 443.66,247.08 C442.99,246.71 441.66,247.38 441.07,246.96 C440.47,246.54 440.22,245.38 440.09,244.55 C439.95,243.72 439.93,242.06 440.25,241.96 C440.56,241.85 441.57,243.16 441.97,243.90 C442.38,244.64 442.15,245.80 442.65,246.41 C443.15,247.02 444.17,247.26 444.97,247.57 C445.78,247.88 446.88,247.76 447.48,248.27 C448.08,248.78 448.69,249.90 448.60,250.62 C448.50,251.33 447.60,252.34 446.89,252.58 C446.18,252.81 445.20,252.08 444.35,252.03 C443.49,251.99 442.62,252.33 441.76,252.33 C440.90,252.33 440.01,251.90 439.18,252.02 C438.35,252.13 437.25,252.42 436.78,253.02 C436.31,253.61 436.44,255.16 436.37,255.59" fill="none" stroke="#9a938b" stroke-width="0.75" stroke-opacity="0.75"/><path d="M445.92,265.46 C446.33,265.31 447.68,264.36 448.35,264.54 C449.03,264.73 449.29,266.12 449.97,266.57 C450.66,267.03 452.33,267.50 452.48,267.28 C452.62,267.06 451.25,266.01 450.84,265.26 C450.42,264.51 450.28,263.62 449.99,262.80 C449.70,261.98 449.58,261.04 449.11,260.36 C448.63,259.67 447.42,259.38 447.13,258.67 C446.83,257.96 446.88,256.57 447.35,256.08 C447.81,255.59 449.07,255.90 449.92,255.73 C450.77,255.55 451.96,255.58 452.43,255.03 C452.89,254.49 453.07,253.04 452.71,252.45 C452.36,251.86 450.76,252.09 450.29,251.51 C449.82,250.93 450.38,249.43 449.88,248.94 C449.38,248.46 448.06,248.95 447.30,248.61 C446.55,248.27 445.93,247.53 445.34,246.91 C444.74,246.28 444.41,245.35 443.74,244.85 C443.08,244.35 441.89,244.46 441.33,243.89 C440.76,243.33 440.12,242.04 440.37,241.48 C440.61,240.92 442.44,241.12 442.79,240.53 C443.14,239.95 442.72,238.01 442.45,237.96 C442.18,237.90 441.53,239.44 441.17,240.22 C440.80,241.00 440.39,242.24 440.24,242.65" fill="none" stroke="#9a938b" stroke-width="0.75" stroke-opacity="0.75"/><path d="M448.86,259.27 C449.29,259.30 450.66,259.18 451.45,259.46 C452.25,259.73 452.84,260.77 453.62,260.90 C454.40,261.03 455.88,260.75 456.13,260.24 C456.39,259.73 455.72,258.36 455.14,257.84 C454.56,257.32 453.47,257.09 452.65,257.12 C451.82,257.15 450.92,257.56 450.21,258.02 C449.50,258.48 449.10,259.46 448.37,259.86 C447.65,260.27 446.69,260.29 445.85,260.47 C445.00,260.65 444.14,260.92 443.29,260.93 C442.43,260.95 441.42,260.95 440.71,260.56 C440.00,260.17 439.67,259.15 439.02,258.59 C438.37,258.03 437.26,257.87 436.82,257.21 C436.37,256.55 436.05,255.34 436.32,254.66 C436.59,253.98 438.17,253.81 438.43,253.14 C438.69,252.46 437.61,251.25 437.89,250.59 C438.16,249.93 439.28,249.40 440.07,249.19 C440.87,248.98 442.00,249.67 442.67,249.33 C443.34,248.99 443.68,247.91 444.11,247.16 C444.54,246.41 444.76,245.52 445.26,244.83 C445.76,244.14 446.43,243.17 447.14,243.04 C447.86,242.90 448.72,243.83 449.55,244.01 C450.38,244.20 451.71,244.10 452.15,244.12" fill="none" stroke="#9a938b" stroke-width="0.75" stroke-opacity="0.75"/><path d="M447.51,266.90 C447.95,266.88 449.25,266.88 450.11,266.80 C450.97,266.73 452.54,266.18 452.69,266.45 C452.83,266.72 451.69,268.09 450.97,268.40 C450.25,268.71 449.20,268.50 448.37,268.29 C447.55,268.09 446.63,267.75 446.02,267.19 C445.41,266.63 445.36,265.42 444.72,264.94 C444.08,264.46 442.71,264.84 442.20,264.31 C441.69,263.78 441.36,262.37 441.66,261.77 C441.97,261.16 443.36,260.52 444.03,260.68 C444.69,260.84 445.13,262.02 445.63,262.72 C446.13,263.43 446.90,264.14 447.02,264.92 C447.14,265.71 446.37,266.60 446.37,267.44 C446.37,268.28 447.28,269.76 447.02,269.96 C446.75,270.16 445.51,268.59 444.78,268.63 C444.06,268.66 442.70,270.18 442.68,270.16 C442.67,270.14 444.02,269.06 444.68,268.49 C445.33,267.93 446.49,267.43 446.62,266.76 C446.74,266.08 445.45,265.24 445.41,264.45 C445.38,263.67 446.55,262.74 446.39,262.04 C446.23,261.35 444.78,261.02 444.46,260.30 C444.14,259.58 444.81,258.40 444.47,257.70 C444.13,257.00 442.76,256.37 442.42,256.11" fill="none" stroke="#9a938b" stroke-width="0.75" stroke-opacity="0.75"/><path d="M442.37,263.79 C442.80,263.74 444.09,263.59 444.96,263.53 C445.82,263.46 446.76,263.17 447.55,263.38 C448.35,263.59 449.36,264.12 449.74,264.79 C450.13,265.45 450.05,266.57 449.87,267.38 C449.68,268.20 449.29,269.37 448.66,269.69 C448.03,270.00 446.95,269.40 446.09,269.27 C445.24,269.15 444.02,269.40 443.52,268.92 C443.01,268.43 443.56,266.88 443.07,266.35 C442.57,265.83 440.80,266.25 440.54,265.74 C440.27,265.24 440.95,263.95 441.48,263.32 C442.00,262.68 442.88,262.24 443.68,261.93 C444.47,261.63 445.38,261.61 446.24,261.49 C447.10,261.37 448.11,260.93 448.82,261.21 C449.54,261.49 450.02,262.47 450.53,263.17 C451.04,263.86 451.93,265.36 451.89,265.39 C451.85,265.41 450.38,264.05 450.31,263.32 C450.25,262.59 451.44,261.79 451.49,261.00 C451.54,260.21 450.49,259.31 450.60,258.56 C450.71,257.80 451.48,256.65 452.14,256.46 C452.80,256.27 454.30,256.85 454.56,257.41 C454.83,257.98 454.05,259.07 453.73,259.88 C453.41,260.68 452.83,261.85 452.65,262.24" fill="none" stroke="#9a938b" stroke-width="0.75" stroke-opacity="0.75"/><path d="M446.07,257.58 C446.11,258.01 446.23,259.30 446.28,260.17 C446.33,261.03 446.23,261.92 446.38,262.77 C446.53,263.61 447.27,264.45 447.19,265.24 C447.10,266.03 446.38,266.78 445.88,267.49 C445.38,268.19 444.87,269.33 444.20,269.47 C443.53,269.61 442.62,268.75 441.86,268.33 C441.10,267.91 440.02,267.61 439.66,266.94 C439.30,266.28 439.28,264.93 439.69,264.34 C440.09,263.75 441.64,263.99 442.11,263.40 C442.58,262.82 442.11,261.52 442.53,260.84 C442.95,260.16 444.45,259.97 444.64,259.32 C444.83,258.66 444.23,257.45 443.65,256.91 C443.07,256.37 441.99,256.04 441.18,256.09 C440.38,256.13 439.66,257.05 438.83,257.19 C438.01,257.34 436.34,257.29 436.24,256.98 C436.14,256.67 438.01,256.02 438.25,255.32 C438.48,254.62 437.59,253.61 437.67,252.79 C437.75,251.97 438.81,251.16 438.73,250.42 C438.65,249.67 437.28,249.07 437.19,248.32 C437.10,247.57 437.82,246.71 438.19,245.92 C438.55,245.14 439.06,244.41 439.38,243.62 C439.71,242.82 440.03,241.55 440.16,241.13" fill="none" stroke="#9a938b" stroke-width="0.75" stroke-opacity="0.75"/><path d="M443.27,251.06 C442.96,251.36 441.70,252.13 441.40,252.87 C441.10,253.60 441.60,254.62 441.47,255.46 C441.34,256.31 441.04,257.18 440.60,257.92 C440.17,258.65 439.48,259.23 438.87,259.86 C438.27,260.48 436.92,261.55 436.99,261.65 C437.06,261.74 438.76,261.05 439.29,260.44 C439.81,259.82 439.64,258.62 440.15,257.98 C440.66,257.34 441.57,256.70 442.35,256.60 C443.13,256.50 444.36,256.83 444.83,257.40 C445.30,257.96 444.85,259.20 445.17,259.97 C445.49,260.75 446.08,261.53 446.74,262.04 C447.40,262.56 448.74,262.46 449.13,263.07 C449.53,263.67 448.80,264.92 449.09,265.67 C449.39,266.41 450.86,266.87 450.90,267.53 C450.95,268.19 450.07,269.35 449.39,269.64 C448.71,269.93 446.86,269.56 446.81,269.28 C446.76,269.01 448.54,268.63 449.08,268.01 C449.62,267.40 450.19,266.33 450.06,265.61 C449.93,264.88 448.52,264.43 448.30,263.69 C448.09,262.94 448.72,261.99 448.79,261.13 C448.86,260.28 448.42,259.28 448.71,258.54 C449.00,257.79 450.24,257.00 450.54,256.69" fill="none" stroke="#9a938b" stroke-width="0.75" stroke-opacity="0.75"/><ellipse cx="411.5" cy="234.7" rx="3.0" ry="1.9" fill="none" stroke="#a39c94" stroke-width="0.8"/><ellipse cx="416.9" cy="236.3" rx="2.4" ry="1.7" fill="none" stroke="#a39c94" stroke-width="0.8"/><ellipse cx="402.9" cy="243.8" rx="2.1" ry="1.5" fill="none" stroke="#a39c94" stroke-width="0.8"/><ellipse cx="406.1" cy="249.2" rx="2.8" ry="1.7" fill="none" stroke="#a39c94" stroke-width="0.8"/><ellipse cx="437.8" cy="235.2" rx="2.4" ry="2.1" fill="none" stroke="#a39c94" stroke-width="0.8"/><ellipse cx="445.9" cy="257.2" rx="2.6" ry="3.2" fill="none" stroke="#a39c94" stroke-width="0.8"/><ellipse cx="436.2" cy="268.0" rx="2.8" ry="2.8" fill="none" stroke="#a39c94" stroke-width="0.8"/><ellipse cx="443.7" cy="251.9" rx="1.9" ry="2.4" fill="none" stroke="#a39c94" stroke-width="0.8"/><path d="M412.02,248.09 C412.32,248.81 413.18,251.08 413.85,252.39 C414.51,253.70 415.64,255.34 415.99,255.93" stroke="#4a443e" stroke-width="1.7" fill="none" stroke-linecap="round"/><path d="M417.39,244.87 C417.84,246.39 419.05,250.87 420.08,254.00 C421.10,257.13 422.94,262.06 423.51,263.67" stroke="#7b746c" stroke-width="1.7" fill="none" stroke-linecap="round"/><path d="M424.91,245.41 C425.03,246.66 425.46,250.33 425.66,252.93 C425.86,255.52 426.02,259.64 426.09,260.98" stroke="#b8b1a8" stroke-width="1.4" fill="none" stroke-linecap="round"/><path d="M432.96,254.22 C433.86,253.20 436.54,249.96 438.34,248.09 C440.13,246.23 442.81,243.89 443.71,243.05 M436.40,256.36 C437.26,255.43 439.95,252.46 441.56,250.78 C443.17,249.10 445.32,247.02 446.07,246.27" stroke="#efe8e0" stroke-width="1.6" fill="none" stroke-linecap="round"/><path d="M432.96,255.61 C433.90,254.59 436.67,251.37 438.55,249.49 C440.43,247.61 443.29,245.19 444.24,244.33" stroke="#a69f97" stroke-width="0.6" fill="none"/><path d="M439.95,234.88 C440.57,235.11 442.72,235.60 443.71,236.28 C444.69,236.96 444.87,238.34 445.85,238.96 C446.84,239.59 448.72,239.32 449.61,240.04 C450.51,240.75 450.24,242.45 451.22,243.26 C452.21,244.07 454.12,244.19 455.52,244.87 C456.92,245.55 458.92,246.93 459.60,247.34" stroke="#262320" stroke-width="2.5" fill="none" stroke-linecap="round" stroke-linejoin="round"/><path d="M445.85,238.96 C446.30,239.77 448.27,242.36 448.54,243.80 C448.81,245.23 447.64,246.93 447.47,247.56 M451.76,243.26 C452.21,244.07 453.46,247.38 454.45,248.09 C455.43,248.81 457.13,247.65 457.67,247.56" stroke="#3a3632" stroke-width="1.6" fill="none" stroke-linecap="round"/><path d="M402.89,246.48 C403.43,246.75 405.22,247.47 406.11,248.09 C407.01,248.72 407.90,249.88 408.26,250.24" stroke="#8a837b" stroke-width="1.6" fill="none" stroke-linecap="round"/></g>
<rect x="446.6" y="288" width="49" height="64" fill="#f4e9dd" filter="url(#bl1)"/>
<g filter="url(#bl05)"><path d="M457.63,326.17 C457.33,325.90 456.39,325.14 455.86,324.54 C455.33,323.95 455.03,323.13 454.45,322.60 C453.87,322.07 452.78,321.97 452.39,321.37 C451.99,320.76 452.00,319.01 452.08,318.99 C452.16,318.97 452.46,320.59 452.87,321.25 C453.29,321.91 454.51,322.35 454.55,322.96 C454.60,323.57 453.34,324.99 453.16,324.92 C452.98,324.85 453.80,323.08 453.48,322.54 C453.16,322.00 451.33,321.53 451.24,321.67 C451.15,321.81 452.36,322.81 452.94,323.36 C453.52,323.91 454.03,324.75 454.73,324.97 C455.42,325.18 456.57,325.07 457.10,324.64 C457.64,324.20 458.01,323.10 457.94,322.38 C457.86,321.67 457.27,320.71 456.66,320.35 C456.04,320.00 455.00,320.04 454.26,320.23 C453.52,320.42 452.16,321.28 452.22,321.50 C452.28,321.72 454.05,321.88 454.62,321.52 C455.20,321.17 455.44,320.12 455.67,319.37 C455.90,318.61 455.99,317.79 456.02,316.99 C456.06,316.20 455.51,315.06 455.88,314.60 C456.25,314.13 457.46,314.17 458.24,314.19 C459.03,314.20 460.01,314.95 460.59,314.68 C461.17,314.40 461.67,313.29 461.72,312.56 C461.77,311.83 461.04,310.68 460.90,310.30" fill="none" stroke="#8f8880" stroke-width="0.75" stroke-opacity="0.8"/><path d="M468.52,332.40 C468.47,332.80 467.99,334.11 468.23,334.79 C468.47,335.46 469.41,335.87 469.98,336.43 C470.55,336.99 471.05,338.06 471.67,338.13 C472.29,338.20 473.01,336.85 473.69,336.84 C474.38,336.83 475.34,337.46 475.76,338.06 C476.18,338.66 476.29,339.65 476.22,340.42 C476.15,341.18 475.87,342.20 475.33,342.64 C474.79,343.09 473.76,343.08 472.97,343.08 C472.18,343.07 471.40,342.68 470.61,342.64 C469.82,342.60 469.01,342.89 468.22,342.85 C467.43,342.80 466.65,342.54 465.86,342.39 C465.08,342.23 463.91,342.38 463.51,341.90 C463.12,341.42 463.19,340.16 463.48,339.50 C463.77,338.83 464.90,338.56 465.27,337.89 C465.63,337.23 465.20,336.02 465.65,335.53 C466.11,335.03 467.23,334.85 467.98,334.92 C468.73,334.98 469.65,335.37 470.16,335.91 C470.67,336.45 471.07,337.43 471.02,338.15 C470.96,338.88 470.13,339.51 469.83,340.24 C469.53,340.98 469.72,342.10 469.23,342.57 C468.74,343.04 467.54,343.28 466.88,343.06 C466.23,342.84 465.64,341.95 465.31,341.25 C464.98,340.55 464.75,339.61 464.90,338.89 C465.05,338.16 466.00,337.21 466.21,336.88" fill="none" stroke="#7a736b" stroke-width="0.75" stroke-opacity="0.8"/><path d="M466.45,331.47 C466.85,331.47 468.05,331.50 468.85,331.47 C469.65,331.43 470.79,331.69 471.24,331.26 C471.68,330.83 471.58,329.65 471.51,328.87 C471.44,328.09 470.90,327.36 470.82,326.57 C470.74,325.79 470.84,324.94 471.05,324.19 C471.26,323.43 472.03,322.76 472.09,322.02 C472.14,321.28 471.16,320.35 471.36,319.73 C471.57,319.11 472.58,318.62 473.30,318.31 C474.02,318.01 474.95,318.22 475.67,317.92 C476.39,317.62 476.90,316.82 477.62,316.52 C478.34,316.22 479.19,316.17 479.98,316.11 C480.78,316.05 481.59,316.11 482.38,316.16 C483.18,316.21 483.98,316.47 484.77,316.43 C485.56,316.40 486.59,315.67 487.12,315.97 C487.66,316.27 487.85,317.44 487.98,318.21 C488.11,318.98 488.14,319.88 487.90,320.61 C487.67,321.34 487.17,322.17 486.56,322.60 C485.94,323.02 484.79,323.43 484.23,323.17 C483.66,322.91 483.71,321.29 483.14,321.03 C482.57,320.77 481.60,321.53 480.81,321.59 C480.02,321.64 479.11,321.68 478.42,321.37 C477.73,321.06 477.36,320.03 476.67,319.72 C475.98,319.42 475.07,319.49 474.28,319.54 C473.49,319.59 472.32,319.93 471.93,320.01" fill="none" stroke="#8f8880" stroke-width="0.75" stroke-opacity="0.8"/><path d="M481.74,327.29 C482.06,327.06 483.25,326.52 483.71,325.92 C484.17,325.31 484.41,324.43 484.49,323.65 C484.58,322.87 484.27,322.06 484.23,321.26 C484.18,320.47 484.32,319.65 484.23,318.86 C484.14,318.08 483.84,317.31 483.68,316.53 C483.51,315.75 483.04,314.84 483.26,314.17 C483.47,313.49 484.81,313.14 484.97,312.48 C485.12,311.83 484.51,310.94 484.20,310.21 C483.88,309.48 483.30,308.84 483.08,308.09 C482.86,307.33 482.90,306.49 482.89,305.69 C482.89,304.90 482.81,304.04 483.04,303.30 C483.27,302.55 483.66,301.48 484.26,301.23 C484.85,300.98 486.58,301.57 486.59,301.79 C486.60,302.01 484.91,302.75 484.31,302.54 C483.71,302.33 483.06,301.22 483.01,300.52 C482.96,299.82 483.63,299.04 484.00,298.33 C484.37,297.63 484.85,296.26 485.24,296.28 C485.62,296.29 486.50,297.88 486.32,298.42 C486.15,298.95 484.91,299.17 484.18,299.50 C483.46,299.83 482.69,300.08 481.96,300.40 C481.22,300.72 480.33,300.88 479.78,301.40 C479.22,301.92 479.22,303.21 478.64,303.51 C478.05,303.82 476.99,303.48 476.26,303.21 C475.53,302.94 474.59,302.11 474.26,301.88" fill="none" stroke="#8f8880" stroke-width="0.75" stroke-opacity="0.8"/><path d="M455.73,333.26 C455.37,333.10 453.52,332.36 453.54,332.28 C453.57,332.21 455.45,332.32 455.88,332.81 C456.31,333.30 455.70,334.69 456.13,335.20 C456.56,335.70 457.99,335.34 458.44,335.84 C458.89,336.35 458.62,337.44 458.83,338.21 C459.04,338.98 459.37,339.72 459.68,340.46 C459.98,341.20 460.81,342.04 460.66,342.65 C460.51,343.26 459.16,343.49 458.78,344.14 C458.39,344.78 458.19,346.44 458.33,346.49 C458.48,346.55 459.23,345.17 459.63,344.48 C460.04,343.79 460.18,342.61 460.75,342.35 C461.33,342.10 462.52,342.49 463.08,342.96 C463.63,343.42 464.31,344.78 464.08,345.14 C463.84,345.49 462.47,345.06 461.68,345.09 C460.88,345.12 459.69,345.70 459.29,345.34 C458.88,344.98 459.60,343.53 459.25,342.94 C458.89,342.35 457.10,342.09 457.14,341.79 C457.17,341.49 458.83,341.59 459.46,341.16 C460.08,340.74 460.35,339.82 460.89,339.24 C461.44,338.66 462.18,338.27 462.73,337.70 C463.28,337.12 463.54,336.16 464.17,335.78 C464.81,335.40 465.75,335.51 466.55,335.43 C467.34,335.35 468.45,334.92 468.94,335.29 C469.44,335.65 469.41,337.23 469.51,337.62" fill="none" stroke="#a29b93" stroke-width="0.75" stroke-opacity="0.8"/><path d="M480.57,304.35 C480.48,304.74 480.44,306.09 479.99,306.68 C479.55,307.27 478.66,307.62 477.93,307.90 C477.19,308.17 476.29,308.04 475.56,308.33 C474.84,308.62 474.03,309.04 473.55,309.63 C473.08,310.23 473.16,311.25 472.71,311.88 C472.27,312.51 471.53,312.97 470.87,313.42 C470.22,313.88 469.52,314.31 468.79,314.61 C468.05,314.90 467.25,315.16 466.47,315.22 C465.68,315.28 464.75,315.28 464.08,314.95 C463.41,314.61 463.12,313.46 462.45,313.18 C461.78,312.91 460.75,313.00 460.05,313.29 C459.36,313.58 458.19,314.63 458.29,314.92 C458.40,315.21 460.16,315.39 460.69,315.03 C461.22,314.67 461.65,313.38 461.46,312.76 C461.27,312.13 459.49,311.52 459.57,311.27 C459.66,311.03 461.39,311.65 461.97,311.29 C462.55,310.94 462.65,309.84 463.05,309.15 C463.45,308.46 463.99,307.12 464.37,307.15 C464.76,307.18 465.10,308.58 465.39,309.32 C465.67,310.07 465.99,310.84 466.08,311.62 C466.17,312.40 465.82,313.23 465.90,314.01 C465.99,314.80 466.33,315.56 466.57,316.32 C466.82,317.08 466.88,318.04 467.38,318.58 C467.87,319.12 469.20,319.39 469.57,319.56" fill="none" stroke="#7a736b" stroke-width="0.75" stroke-opacity="0.8"/><path d="M486.39,335.93 C486.06,335.71 484.73,335.25 484.37,334.63 C484.01,334.02 484.00,332.94 484.24,332.24 C484.47,331.53 485.32,331.05 485.78,330.40 C486.24,329.75 486.44,328.82 487.02,328.34 C487.60,327.87 489.02,328.06 489.28,327.55 C489.55,327.03 489.01,325.89 488.58,325.25 C488.15,324.62 487.10,324.38 486.73,323.73 C486.35,323.08 486.14,322.05 486.35,321.36 C486.56,320.67 487.77,320.30 487.99,319.61 C488.22,318.93 487.62,318.01 487.68,317.23 C487.75,316.46 488.67,315.29 488.40,314.94 C488.12,314.60 486.80,315.17 486.01,315.17 C485.21,315.16 484.24,315.30 483.62,314.93 C483.00,314.56 482.76,313.58 482.28,312.94 C481.80,312.30 480.92,311.79 480.75,311.10 C480.57,310.40 481.53,309.30 481.25,308.75 C480.97,308.20 479.81,307.90 479.05,307.79 C478.29,307.68 477.27,308.38 476.67,308.09 C476.06,307.79 475.73,306.76 475.43,306.03 C475.12,305.30 474.81,304.48 474.83,303.71 C474.84,302.94 475.30,302.18 475.52,301.41 C475.75,300.64 475.73,299.70 476.18,299.10 C476.63,298.51 477.68,298.40 478.23,297.84 C478.77,297.29 479.25,296.13 479.45,295.78" fill="none" stroke="#7a736b" stroke-width="0.75" stroke-opacity="0.8"/><path d="M458.41,327.81 C458.01,327.79 456.77,327.53 456.01,327.69 C455.25,327.84 453.81,328.58 453.85,328.72 C453.88,328.87 455.48,328.41 456.24,328.56 C457.00,328.70 457.64,329.50 458.40,329.61 C459.15,329.72 459.97,329.31 460.76,329.22 C461.56,329.12 462.65,328.67 463.16,329.02 C463.66,329.38 463.54,330.58 463.80,331.34 C464.06,332.09 464.19,333.03 464.71,333.56 C465.23,334.08 466.61,333.94 466.92,334.50 C467.23,335.05 466.92,336.19 466.58,336.87 C466.25,337.55 465.47,338.02 464.89,338.57 C464.31,339.12 463.28,339.54 463.12,340.19 C462.96,340.84 464.00,341.75 463.91,342.46 C463.82,343.17 462.53,343.83 462.59,344.46 C462.64,345.09 464.20,346.24 464.22,346.22 C464.24,346.20 462.96,345.07 462.70,344.36 C462.44,343.65 462.82,342.73 462.67,341.96 C462.51,341.19 462.18,340.41 461.77,339.73 C461.37,339.05 460.90,338.16 460.24,337.88 C459.59,337.61 458.65,338.12 457.85,338.09 C457.06,338.06 455.84,338.15 455.49,337.68 C455.13,337.22 455.34,335.88 455.74,335.30 C456.14,334.72 457.15,334.23 457.88,334.21 C458.60,334.18 459.72,334.99 460.09,335.14" fill="none" stroke="#8f8880" stroke-width="0.75" stroke-opacity="0.8"/><path d="M471.17,321.47 C471.24,321.08 471.27,319.83 471.55,319.10 C471.83,318.37 472.25,317.48 472.86,317.10 C473.48,316.71 474.76,317.21 475.24,316.77 C475.72,316.32 475.53,315.19 475.75,314.42 C475.97,313.65 476.06,312.70 476.55,312.16 C477.05,311.62 478.39,311.74 478.75,311.18 C479.10,310.61 479.09,309.33 478.71,308.78 C478.33,308.23 477.05,308.37 476.48,307.88 C475.91,307.38 475.26,306.48 475.29,305.80 C475.31,305.12 476.62,304.48 476.63,303.81 C476.64,303.14 475.63,302.52 475.34,301.79 C475.05,301.06 475.33,299.97 474.88,299.43 C474.43,298.89 472.81,299.02 472.65,298.54 C472.50,298.05 473.79,296.46 473.95,296.52 C474.11,296.58 473.98,298.25 473.62,298.90 C473.26,299.55 472.30,299.84 471.77,300.43 C471.24,301.02 470.72,301.70 470.45,302.43 C470.18,303.16 470.59,304.36 470.14,304.81 C469.69,305.26 467.92,305.39 467.76,305.12 C467.61,304.85 468.58,303.64 469.20,303.20 C469.82,302.76 470.72,302.49 471.49,302.47 C472.26,302.46 473.36,302.62 473.80,303.13 C474.24,303.63 473.92,304.74 474.12,305.50 C474.32,306.27 474.87,307.36 475.02,307.73" fill="none" stroke="#8f8880" stroke-width="0.75" stroke-opacity="0.8"/><path d="M468.98,321.32 C469.37,321.22 470.94,321.25 471.32,320.76 C471.69,320.27 471.61,318.93 471.23,318.36 C470.86,317.79 469.40,317.90 469.07,317.33 C468.73,316.76 468.81,315.47 469.21,314.93 C469.61,314.40 470.89,314.60 471.47,314.12 C472.04,313.63 472.61,312.73 472.64,312.02 C472.67,311.31 471.82,310.61 471.63,309.85 C471.44,309.08 471.34,308.21 471.50,307.45 C471.65,306.69 472.40,306.06 472.56,305.30 C472.72,304.54 472.61,303.68 472.46,302.90 C472.30,302.13 471.58,300.67 471.63,300.65 C471.69,300.62 472.37,302.07 472.79,302.75 C473.20,303.44 473.91,304.02 474.10,304.76 C474.30,305.49 473.79,306.40 473.95,307.15 C474.11,307.91 474.48,308.87 475.07,309.28 C475.65,309.68 476.95,309.13 477.45,309.57 C477.96,310.00 478.30,311.23 478.10,311.88 C477.90,312.52 476.96,313.16 476.25,313.41 C475.54,313.65 474.35,312.98 473.85,313.36 C473.36,313.75 473.46,314.91 473.29,315.70 C473.13,316.48 473.27,317.46 472.85,318.06 C472.44,318.66 471.34,318.75 470.80,319.30 C470.27,319.86 469.71,320.68 469.65,321.41 C469.60,322.14 470.33,323.29 470.47,323.67" fill="none" stroke="#a29b93" stroke-width="0.75" stroke-opacity="0.8"/><path d="M479.84,324.31 C480.19,324.51 481.17,325.34 481.92,325.51 C482.66,325.67 483.70,325.67 484.31,325.30 C484.92,324.92 485.00,323.72 485.60,323.27 C486.19,322.82 487.91,322.62 487.90,322.60 C487.89,322.57 486.33,322.92 485.55,323.11 C484.78,323.30 483.86,323.33 483.24,323.76 C482.62,324.19 482.47,325.43 481.84,325.70 C481.20,325.97 479.96,325.81 479.46,325.37 C478.96,324.92 479.19,323.74 478.82,323.05 C478.45,322.36 477.73,321.87 477.25,321.24 C476.77,320.60 475.90,319.87 475.94,319.23 C475.97,318.59 476.98,318.02 477.48,317.39 C477.98,316.77 478.75,316.20 478.94,315.48 C479.13,314.77 479.07,313.57 478.63,313.10 C478.18,312.64 476.71,313.14 476.26,312.67 C475.82,312.21 475.73,311.00 475.94,310.30 C476.14,309.60 477.08,309.15 477.49,308.47 C477.90,307.80 478.06,306.97 478.39,306.25 C478.72,305.52 479.09,304.80 479.46,304.10 C479.83,303.39 480.48,302.74 480.62,302.00 C480.77,301.25 479.99,300.14 480.32,299.62 C480.65,299.09 481.82,298.93 482.60,298.85 C483.38,298.77 484.58,298.69 484.98,299.13 C485.39,299.58 485.01,301.13 485.02,301.53" fill="none" stroke="#7a736b" stroke-width="0.75" stroke-opacity="0.8"/><path d="M468.35,304.81 C468.64,304.53 469.88,303.84 470.10,303.17 C470.33,302.50 469.43,301.43 469.69,300.81 C469.95,300.18 470.95,299.57 471.66,299.44 C472.38,299.32 473.30,300.24 473.98,300.07 C474.65,299.90 475.02,298.72 475.70,298.40 C476.39,298.09 477.31,298.12 478.09,298.18 C478.88,298.24 479.65,298.55 480.42,298.76 C481.20,298.97 482.11,299.66 482.72,299.44 C483.34,299.23 483.58,298.07 484.09,297.47 C484.61,296.86 485.58,296.49 485.83,295.81 C486.08,295.14 485.96,294.06 485.60,293.42 C485.25,292.78 484.02,291.81 483.69,291.97 C483.37,292.13 483.71,293.57 483.67,294.37 C483.63,295.17 483.86,296.21 483.46,296.76 C483.05,297.31 482.00,297.58 481.24,297.67 C480.47,297.77 479.47,297.03 478.87,297.31 C478.26,297.59 478.19,298.89 477.60,299.35 C477.01,299.82 476.10,299.91 475.33,300.11 C474.55,300.32 473.76,300.43 472.97,300.59 C472.19,300.74 471.02,300.55 470.61,301.02 C470.20,301.49 470.23,302.75 470.51,303.42 C470.79,304.09 471.60,304.81 472.29,305.03 C472.98,305.26 473.90,304.64 474.67,304.74 C475.44,304.85 476.52,305.50 476.89,305.65" fill="none" stroke="#7a736b" stroke-width="0.75" stroke-opacity="0.8"/><path d="M457.96,321.43 C457.68,321.72 456.96,322.91 456.29,323.15 C455.61,323.38 454.67,322.73 453.91,322.84 C453.14,322.94 451.81,323.30 451.70,323.77 C451.58,324.23 452.62,325.12 453.23,325.61 C453.84,326.11 454.78,326.21 455.35,326.73 C455.92,327.26 456.02,328.46 456.63,328.76 C457.24,329.06 458.25,328.73 459.02,328.54 C459.79,328.35 460.52,327.97 461.24,327.62 C461.96,327.28 462.72,326.38 463.35,326.48 C463.97,326.57 464.79,327.53 465.00,328.21 C465.21,328.90 464.90,329.85 464.62,330.58 C464.33,331.31 463.22,331.95 463.27,332.57 C463.33,333.19 464.31,333.83 464.95,334.29 C465.59,334.75 466.55,334.82 467.11,335.34 C467.67,335.86 467.73,336.95 468.32,337.42 C468.90,337.88 469.87,337.83 470.60,338.14 C471.34,338.45 472.00,338.93 472.73,339.26 C473.45,339.60 474.38,340.32 474.96,340.13 C475.55,339.94 475.67,338.30 476.26,338.11 C476.85,337.92 477.98,338.47 478.49,338.99 C479.00,339.51 478.82,340.71 479.33,341.24 C479.84,341.76 480.88,341.74 481.55,342.15 C482.22,342.57 482.66,343.42 483.36,343.73 C484.05,344.05 485.34,343.99 485.74,344.04" fill="none" stroke="#7a736b" stroke-width="0.75" stroke-opacity="0.8"/><path d="M489.31,332.98 C488.93,332.85 487.71,332.05 487.05,332.19 C486.38,332.33 485.70,333.18 485.30,333.84 C484.90,334.49 484.60,335.38 484.63,336.14 C484.66,336.90 485.15,337.66 485.46,338.39 C485.76,339.13 486.28,339.81 486.47,340.57 C486.65,341.33 486.48,342.18 486.57,342.97 C486.66,343.76 487.34,345.02 487.03,345.32 C486.71,345.63 485.36,344.58 484.69,344.77 C484.02,344.97 483.69,346.25 483.02,346.50 C482.34,346.74 480.64,346.38 480.63,346.23 C480.62,346.09 482.49,346.10 482.95,345.60 C483.41,345.10 483.68,343.81 483.39,343.24 C483.10,342.68 481.49,342.77 481.23,342.21 C480.96,341.64 481.68,340.66 481.80,339.88 C481.92,339.09 481.62,338.15 481.93,337.48 C482.24,336.81 483.24,336.48 483.68,335.83 C484.11,335.19 484.02,334.09 484.55,333.60 C485.08,333.11 486.22,332.70 486.85,332.90 C487.48,333.10 488.15,334.07 488.34,334.78 C488.52,335.49 488.29,336.45 487.97,337.15 C487.66,337.86 486.94,338.38 486.45,339.01 C485.95,339.64 485.64,340.71 485.01,340.93 C484.39,341.15 483.41,340.66 482.69,340.34 C481.97,340.02 481.03,339.22 480.70,339.00" fill="none" stroke="#7a736b" stroke-width="0.75" stroke-opacity="0.8"/><path d="M466.23,330.19 C466.54,330.45 467.60,331.11 468.07,331.73 C468.55,332.35 468.85,333.15 469.07,333.91 C469.28,334.67 468.92,335.86 469.37,336.30 C469.81,336.73 470.98,336.64 471.75,336.53 C472.52,336.43 473.34,336.09 473.99,335.66 C474.63,335.22 474.99,334.35 475.63,333.91 C476.28,333.46 477.45,333.54 477.85,332.99 C478.25,332.44 478.10,331.38 478.03,330.59 C477.95,329.81 477.59,329.05 477.39,328.28 C477.19,327.51 476.70,326.68 476.82,325.95 C476.94,325.22 477.49,324.30 478.11,323.92 C478.72,323.55 479.71,323.65 480.49,323.70 C481.28,323.75 482.15,324.40 482.84,324.22 C483.52,324.03 483.92,322.87 484.61,322.60 C485.31,322.34 486.44,322.25 487.01,322.62 C487.58,322.99 487.74,324.05 488.02,324.80 C488.31,325.54 488.94,326.47 488.73,327.09 C488.53,327.71 487.51,328.25 486.78,328.49 C486.06,328.73 484.88,328.93 484.38,328.55 C483.89,328.17 484.00,327.00 483.83,326.22 C483.66,325.43 483.29,324.62 483.38,323.86 C483.47,323.10 483.79,322.11 484.35,321.66 C484.90,321.21 486.11,321.58 486.69,321.15 C487.28,320.71 487.66,319.40 487.85,319.05" fill="none" stroke="#a29b93" stroke-width="0.75" stroke-opacity="0.8"/><path d="M475.97,302.08 C476.36,302.01 477.53,301.69 478.32,301.62 C479.11,301.56 479.99,301.45 480.72,301.68 C481.46,301.90 482.00,302.72 482.74,302.98 C483.47,303.23 484.62,302.78 485.13,303.21 C485.63,303.63 485.42,304.82 485.78,305.52 C486.13,306.22 487.29,307.37 487.25,307.41 C487.21,307.44 486.22,305.91 485.54,305.72 C484.87,305.54 483.85,306.51 483.21,306.30 C482.57,306.08 482.17,305.08 481.70,304.43 C481.24,303.78 480.79,303.11 480.43,302.40 C480.06,301.69 479.76,300.94 479.52,300.18 C479.28,299.42 479.39,298.48 478.99,297.84 C478.60,297.19 477.34,296.95 477.14,296.31 C476.94,295.67 477.27,294.35 477.77,293.99 C478.28,293.64 479.54,293.81 480.17,294.17 C480.79,294.53 481.18,295.43 481.54,296.14 C481.89,296.84 481.78,297.96 482.30,298.41 C482.82,298.87 484.09,298.43 484.66,298.86 C485.23,299.30 485.97,300.68 485.75,301.00 C485.53,301.33 484.14,300.96 483.36,300.82 C482.58,300.67 481.58,300.63 481.05,300.15 C480.53,299.66 480.73,298.41 480.21,297.90 C479.68,297.40 478.67,297.44 477.93,297.13 C477.20,296.82 476.14,296.23 475.79,296.06" fill="none" stroke="#8f8880" stroke-width="0.75" stroke-opacity="0.8"/><path d="M469.08,312.44 C468.93,312.10 468.40,311.12 468.20,310.42 C467.99,309.72 467.68,308.89 467.86,308.25 C468.04,307.60 469.26,307.13 469.27,306.56 C469.28,305.99 468.52,305.14 467.93,304.82 C467.34,304.50 466.47,304.68 465.73,304.66 C465.00,304.64 464.09,304.38 463.53,304.70 C462.97,305.02 462.21,306.33 462.38,306.57 C462.54,306.81 463.81,306.23 464.54,306.16 C465.27,306.10 466.04,306.33 466.74,306.17 C467.43,306.01 468.01,305.37 468.70,305.18 C469.40,304.99 470.46,305.41 470.90,305.03 C471.34,304.65 471.04,303.52 471.35,302.88 C471.66,302.23 472.62,301.81 472.75,301.18 C472.87,300.54 471.88,299.63 472.08,299.08 C472.27,298.52 473.52,297.70 473.90,297.85 C474.28,298.00 474.28,299.64 474.35,300.00" fill="none" stroke="#4d4741" stroke-width="1.0" stroke-opacity="0.85"/><path d="M476.35,312.85 C476.60,312.59 477.36,311.79 477.85,311.25 C478.34,310.70 478.73,309.68 479.29,309.58 C479.85,309.49 480.84,310.14 481.19,310.69 C481.54,311.24 481.66,312.29 481.40,312.88 C481.15,313.47 480.19,313.73 479.68,314.25 C479.18,314.78 478.75,315.39 478.37,316.01 C477.98,316.64 477.46,318.01 477.39,317.99 C477.32,317.96 477.73,316.56 477.93,315.85 C478.13,315.15 478.46,314.48 478.62,313.76 C478.78,313.05 478.50,312.06 478.90,311.58 C479.29,311.11 480.39,311.29 480.99,310.91 C481.59,310.53 482.42,309.90 482.50,309.31 C482.58,308.72 481.59,308.05 481.47,307.37 C481.34,306.68 481.68,305.19 481.78,305.19 C481.88,305.19 482.21,306.70 482.06,307.37 C481.91,308.04 481.06,308.91 480.86,309.21" fill="none" stroke="#4d4741" stroke-width="1.0" stroke-opacity="0.85"/><path d="M469.01,310.65 C469.31,310.44 470.24,309.85 470.81,309.38 C471.37,308.92 471.87,308.37 472.40,307.86 C472.93,307.36 473.55,306.93 474.00,306.36 C474.46,305.79 475.17,305.05 475.11,304.46 C475.05,303.87 473.96,303.45 473.65,302.81 C473.34,302.18 473.36,301.37 473.25,300.65 C473.15,299.92 472.69,298.83 473.01,298.46 C473.34,298.09 475.18,298.30 475.21,298.44 C475.24,298.57 473.75,299.44 473.19,299.29 C472.62,299.14 471.71,297.72 471.83,297.56 C471.95,297.39 473.42,297.84 473.90,298.30 C474.38,298.77 474.23,299.86 474.70,300.35 C475.17,300.84 476.21,300.77 476.71,301.25 C477.20,301.73 477.42,302.54 477.68,303.22 C477.94,303.90 478.45,304.75 478.28,305.34 C478.10,305.93 476.89,306.54 476.61,306.78" fill="none" stroke="#4d4741" stroke-width="1.0" stroke-opacity="0.85"/><path d="M464.85,309.36 C464.80,309.00 464.87,307.79 464.54,307.19 C464.22,306.58 462.87,306.21 462.88,305.74 C462.89,305.27 464.46,304.93 464.60,304.36 C464.73,303.80 463.62,302.97 463.70,302.36 C463.79,301.74 464.60,301.19 465.11,300.67 C465.63,300.15 466.18,299.31 466.79,299.24 C467.39,299.17 468.42,299.71 468.74,300.25 C469.06,300.78 468.44,301.83 468.70,302.45 C468.97,303.06 470.10,303.31 470.34,303.92 C470.57,304.53 470.03,305.39 470.09,306.11 C470.16,306.82 470.50,307.52 470.74,308.21 C470.98,308.90 471.06,309.82 471.55,310.26 C472.03,310.70 473.23,310.40 473.66,310.86 C474.10,311.32 474.42,312.50 474.17,313.00 C473.91,313.51 472.60,313.39 472.15,313.89 C471.70,314.38 471.57,315.63 471.46,315.97" fill="none" stroke="#4d4741" stroke-width="1.0" stroke-opacity="0.85"/><path d="M476.55,301.40 C476.39,301.07 476.12,299.76 475.60,299.42 C475.07,299.08 474.06,299.60 473.40,299.37 C472.74,299.14 472.31,298.30 471.65,298.03 C471.00,297.76 469.50,297.65 469.47,297.74 C469.45,297.83 470.87,298.65 471.51,298.58 C472.14,298.50 473.18,297.18 473.28,297.28 C473.39,297.38 472.11,298.54 472.13,299.15 C472.15,299.76 472.85,300.58 473.42,300.93 C474.00,301.29 474.89,301.37 475.59,301.30 C476.30,301.23 476.94,300.56 477.64,300.50 C478.34,300.45 479.32,300.55 479.79,300.98 C480.26,301.41 480.42,302.35 480.49,303.07 C480.55,303.78 480.53,304.67 480.18,305.24 C479.83,305.82 478.90,306.00 478.39,306.52 C477.89,307.04 477.68,307.86 477.16,308.34 C476.63,308.83 475.57,309.26 475.25,309.44" fill="none" stroke="#4d4741" stroke-width="1.0" stroke-opacity="0.85"/><path d="M482.34,310.57 C482.37,310.20 482.68,309.06 482.53,308.38 C482.37,307.70 481.64,307.17 481.39,306.49 C481.15,305.81 481.47,304.78 481.06,304.31 C480.66,303.85 479.28,304.19 478.95,303.72 C478.61,303.26 479.09,302.25 479.07,301.52 C479.05,300.79 479.13,299.46 478.82,299.34 C478.51,299.22 477.51,300.20 477.18,300.81 C476.86,301.42 477.23,302.42 476.87,302.99 C476.52,303.55 475.28,303.63 475.03,304.19 C474.79,304.76 475.08,305.74 475.40,306.36 C475.71,306.99 476.65,307.32 476.92,307.95 C477.20,308.58 476.77,309.51 477.04,310.14 C477.31,310.78 477.94,311.40 478.56,311.73 C479.17,312.07 480.01,311.96 480.72,312.15 C481.43,312.33 482.52,313.09 482.80,312.85 C483.09,312.61 482.48,311.04 482.42,310.68" fill="none" stroke="#4d4741" stroke-width="1.0" stroke-opacity="0.85"/><path d="M462.77,307.62 C462.86,307.97 462.89,309.24 463.31,309.75 C463.73,310.26 464.67,310.31 465.31,310.66 C465.95,311.02 466.64,311.37 467.15,311.88 C467.65,312.39 467.85,313.21 468.35,313.72 C468.86,314.23 469.68,314.43 470.17,314.96 C470.66,315.48 471.46,316.61 471.28,316.85 C471.11,317.10 469.63,316.84 469.12,316.44 C468.62,316.03 468.35,315.12 468.24,314.42 C468.13,313.72 468.37,312.96 468.46,312.24 C468.56,311.51 468.39,310.48 468.81,310.06 C469.23,309.65 470.45,310.11 470.99,309.74 C471.53,309.37 471.53,308.24 472.06,307.82 C472.60,307.40 473.70,307.66 474.18,307.22 C474.66,306.78 474.60,305.79 474.95,305.16 C475.30,304.53 476.10,304.08 476.30,303.42 C476.49,302.76 476.15,301.59 476.12,301.23" fill="none" stroke="#4d4741" stroke-width="1.0" stroke-opacity="0.85"/><path d="M461.25,306.58 C462.13,306.13 464.90,303.59 466.56,303.92 C468.22,304.25 470.88,306.80 471.21,308.57 C471.54,310.34 469.88,313.66 468.55,314.54 C467.22,315.43 464.13,313.99 463.24,313.88" stroke="#4a443f" stroke-width="2.0" fill="none" stroke-linecap="round"/><path d="M473.20,301.26 C474.09,302.26 478.07,305.03 478.51,307.24 C478.96,309.45 476.30,313.33 475.86,314.54 M482.50,301.26 C483.16,302.59 486.04,306.58 486.48,309.23 C486.92,311.89 484.93,314.99 485.15,317.20 C485.37,319.41 487.37,321.63 487.81,322.51" stroke="#5a544e" stroke-width="1.6" fill="none" stroke-linecap="round"/><path d="M469.88,305.25 C470.43,306.24 472.87,309.23 473.20,311.22 C473.53,313.22 472.09,316.20 471.87,317.20 M479.84,303.92 C480.24,305.03 481.83,309.45 482.23,310.56" stroke="#f2ece5" stroke-width="1.3" fill="none" stroke-linecap="round"/><path d="M459.92,324.50 C462.13,324.13 468.73,321.65 473.20,322.25 C477.67,322.84 484.49,327.12 486.75,328.09" stroke="#2e2a27" stroke-width="1.7" fill="none" stroke-linecap="round"/><path d="M456.60,329.82 C459.37,329.31 468.33,326.30 473.20,326.76 C478.07,327.23 483.71,331.63 485.82,332.61" stroke="#2e2a27" stroke-width="1.7" fill="none" stroke-linecap="round"/><path d="M455.94,334.20 C458.26,333.76 465.90,331.41 469.88,331.54 C473.86,331.68 478.18,334.42 479.84,335.00" stroke="#2e2a27" stroke-width="1.7" fill="none" stroke-linecap="round"/><path d="M462.58,318.79 C464.79,318.64 471.76,317.02 475.86,317.86 C479.95,318.71 485.26,322.84 487.14,323.84" stroke="#2e2a27" stroke-width="1.7" fill="none" stroke-linecap="round"/><path d="M458.59,327.16 C461.03,326.72 468.55,323.95 473.20,324.50 C477.85,325.06 484.27,329.48 486.48,330.48" stroke="#f4eee8" stroke-width="0.9" fill="none" stroke-linecap="round"/><path d="M456.20,332.07 C458.81,331.59 467.45,328.84 471.87,329.15 C476.30,329.46 480.95,333.14 482.76,333.93" stroke="#f4eee8" stroke-width="0.9" fill="none" stroke-linecap="round"/><line x1="455.7" y1="337.1" x2="461.3" y2="338.2" stroke="#2e2a27" stroke-width="1.5" stroke-linecap="round"/><line x1="455.9" y1="339.2" x2="461.5" y2="340.3" stroke="#2e2a27" stroke-width="1.5" stroke-linecap="round"/><line x1="456.1" y1="341.3" x2="461.7" y2="342.4" stroke="#2e2a27" stroke-width="1.5" stroke-linecap="round"/><line x1="456.3" y1="343.3" x2="461.9" y2="344.4" stroke="#2e2a27" stroke-width="1.5" stroke-linecap="round"/><line x1="468.2" y1="335.1" x2="473.7" y2="336.3" stroke="#2e2a27" stroke-width="1.5" stroke-linecap="round"/><line x1="468.4" y1="337.4" x2="473.9" y2="338.6" stroke="#2e2a27" stroke-width="1.5" stroke-linecap="round"/><line x1="468.6" y1="339.6" x2="474.1" y2="340.8" stroke="#2e2a27" stroke-width="1.5" stroke-linecap="round"/><line x1="468.8" y1="341.9" x2="474.3" y2="343.1" stroke="#2e2a27" stroke-width="1.5" stroke-linecap="round"/></g>
<g stroke="#0a0a0a" stroke-width="2.3" stroke-linecap="round" fill="none">
<line x1="152.8" y1="66.7" x2="205.5" y2="94.9" marker-end="url(#ah)"/>
<line x1="73.5" y1="165.2" x2="175" y2="187" marker-end="url(#ah)"/>
<line x1="74.6" y1="343" x2="176" y2="295" marker-end="url(#ah)"/>
<line x1="152.5" y1="417.7" x2="205" y2="358.5" marker-end="url(#ah)"/>
<line x1="265.6" y1="417.7" x2="265" y2="345" marker-end="url(#ah)"/>
<line x1="600.7" y1="71.5" x2="506.5" y2="80.3" marker-end="url(#ah)"/>
<line x1="630.5" y1="165.5" x2="548" y2="153" marker-end="url(#ah)"/>
<line x1="630.5" y1="165.5" x2="584.3" y2="187" marker-end="url(#ah)"/>
<line x1="644.7" y1="342.5" x2="569.7" y2="215.6" marker-end="url(#ah)"/>
<line x1="644.7" y1="342.5" x2="563.4" y2="295.3" marker-end="url(#ah)"/>
<line x1="644.7" y1="342.5" x2="646.3" y2="253.8" marker-end="url(#ah)"/>
<line x1="431" y1="416" x2="430" y2="256.3" marker-end="url(#ah)"/>
<line x1="431" y1="416" x2="471.5" y2="352.8" marker-end="url(#ah)"/>
</g>
<g font-family="'Liberation Sans',sans-serif" font-size="10.9" stroke-width="0.3">
<text x="77.7" y="56.30" fill="#e2492f" stroke="#e2492f" textLength="46.9" lengthAdjust="spacingAndGlyphs">Cell Wall</text>
<text x="77.7" y="71.57" fill="#262626" stroke="#262626" textLength="54.1" lengthAdjust="spacingAndGlyphs">β-lactams</text>
<text x="77.7" y="86.84" fill="#262626" stroke="#262626" textLength="66.3" lengthAdjust="spacingAndGlyphs">Vancomycin</text>
<text x="19.4" y="127.80" fill="#e2492f" stroke="#e2492f" textLength="109.8" lengthAdjust="spacingAndGlyphs">DNA/RNA Synthesis</text>
<text x="19.4" y="143.07" fill="#262626" stroke="#262626" textLength="97.6" lengthAdjust="spacingAndGlyphs">Fluoroquinolones</text>
<text x="19.4" y="158.34" fill="#262626" stroke="#262626" textLength="59" lengthAdjust="spacingAndGlyphs">Rifamycins</text>
<text x="31.5" y="365.40" fill="#e2492f" stroke="#e2492f" textLength="88.3" lengthAdjust="spacingAndGlyphs">Folate Synthesis</text>
<text x="31.5" y="380.67" fill="#262626" stroke="#262626" textLength="76.1" lengthAdjust="spacingAndGlyphs">Trimethoprim</text>
<text x="31.5" y="395.94" fill="#262626" stroke="#262626" textLength="74.7" lengthAdjust="spacingAndGlyphs">Sulfonamides</text>
<text x="106.7" y="433.80" fill="#e2492f" stroke="#e2492f" textLength="85.3" lengthAdjust="spacingAndGlyphs">Cell Membrane</text>
<text x="106.7" y="449.07" fill="#262626" stroke="#262626" textLength="66.3" lengthAdjust="spacingAndGlyphs">Daptomycin</text>
<text x="225" y="433.80" fill="#e2492f" stroke="#e2492f" textLength="95.4" lengthAdjust="spacingAndGlyphs">Protein Synthesis</text>
<text x="225" y="449.07" fill="#262626" stroke="#262626" textLength="47.5" lengthAdjust="spacingAndGlyphs">Linezolid</text>
<text x="225" y="464.34" fill="#262626" stroke="#262626" textLength="70.5" lengthAdjust="spacingAndGlyphs">Tetracyclines</text>
<text x="225" y="479.61" fill="#262626" stroke="#262626" textLength="61" lengthAdjust="spacingAndGlyphs">Macrolides</text>
<text x="225" y="494.88" fill="#262626" stroke="#262626" textLength="92.8" lengthAdjust="spacingAndGlyphs">Aminoglycosides</text>
<text x="389.2" y="433.80" fill="#e2492f" stroke="#e2492f" textLength="116.2" lengthAdjust="spacingAndGlyphs">Inactivating Enzymes</text>
<text x="389.2" y="449.07" fill="#262626" stroke="#262626" textLength="54.1" lengthAdjust="spacingAndGlyphs">β-lactams</text>
<text x="389.2" y="464.34" fill="#262626" stroke="#262626" textLength="92.8" lengthAdjust="spacingAndGlyphs">Aminoglycosides</text>
<text x="389.2" y="479.61" fill="#262626" stroke="#262626" textLength="61" lengthAdjust="spacingAndGlyphs">Macrolides</text>
<text x="389.2" y="494.88" fill="#262626" stroke="#262626" textLength="59" lengthAdjust="spacingAndGlyphs">Rifamycins</text>
<text x="609" y="356.80" fill="#e2492f" stroke="#e2492f" textLength="108" lengthAdjust="spacingAndGlyphs">Target Modification</text>
<text x="609" y="372.07" fill="#262626" stroke="#262626" textLength="97.6" lengthAdjust="spacingAndGlyphs">Fluoroquinolones</text>
<text x="609" y="387.34" fill="#262626" stroke="#262626" textLength="59" lengthAdjust="spacingAndGlyphs">Rifamycins</text>
<text x="609" y="402.61" fill="#262626" stroke="#262626" textLength="66.3" lengthAdjust="spacingAndGlyphs">Vancomycin</text>
<text x="609" y="417.88" fill="#262626" stroke="#262626" textLength="54.7" lengthAdjust="spacingAndGlyphs">Penicillins</text>
<text x="609" y="433.15" fill="#262626" stroke="#262626" textLength="61" lengthAdjust="spacingAndGlyphs">Macrolides</text>
<text x="609" y="448.42" fill="#262626" stroke="#262626" textLength="92.8" lengthAdjust="spacingAndGlyphs">Aminoglycosides</text>
<text x="608.9" y="42.60" fill="#e5352a" stroke="#e5352a" textLength="30.1" lengthAdjust="spacingAndGlyphs">Efflux</text>
<text x="608.9" y="57.87" fill="#262626" stroke="#262626" textLength="97.6" lengthAdjust="spacingAndGlyphs">Fluoroquinolones</text>
<text x="608.9" y="73.14" fill="#262626" stroke="#262626" textLength="92.8" lengthAdjust="spacingAndGlyphs">Aminoglycosides</text>
<text x="608.9" y="88.41" fill="#262626" stroke="#262626" textLength="70.5" lengthAdjust="spacingAndGlyphs">Tetracyclines</text>
<text x="608.9" y="103.68" fill="#262626" stroke="#262626" textLength="54.1" lengthAdjust="spacingAndGlyphs">β-lactams</text>
<text x="608.9" y="118.95" fill="#262626" stroke="#262626" textLength="61" lengthAdjust="spacingAndGlyphs">Macrolides</text>
<text x="641.9" y="136.90" fill="#e5352a" stroke="#e5352a" textLength="52.6" lengthAdjust="spacingAndGlyphs">Immunity</text>
<text x="641.9" y="152.17" fill="#e5352a" stroke="#e5352a" textLength="50.5" lengthAdjust="spacingAndGlyphs">&amp; Bypass</text>
<text x="641.9" y="167.44" fill="#262626" stroke="#262626" textLength="70.5" lengthAdjust="spacingAndGlyphs">Tetracyclines</text>
<text x="641.9" y="182.71" fill="#262626" stroke="#262626" textLength="76.1" lengthAdjust="spacingAndGlyphs">Trimethoprim</text>
<text x="641.9" y="197.98" fill="#262626" stroke="#262626" textLength="74.7" lengthAdjust="spacingAndGlyphs">Sulfonamides</text>
<text x="641.9" y="213.25" fill="#262626" stroke="#262626" textLength="66.3" lengthAdjust="spacingAndGlyphs">Vancomycin</text>
</g>
<g font-family="'Liberation Sans',sans-serif" font-size="21.6" font-weight="bold" fill="#141414">
<text x="175.1" y="37.4" textLength="170.3" lengthAdjust="spacingAndGlyphs">Antibiotic Targets</text>
<text x="378.1" y="37.4" textLength="203.2" lengthAdjust="spacingAndGlyphs">Antibiotic Resistance</text>
</g>
</g>
</svg>
</body></html>
